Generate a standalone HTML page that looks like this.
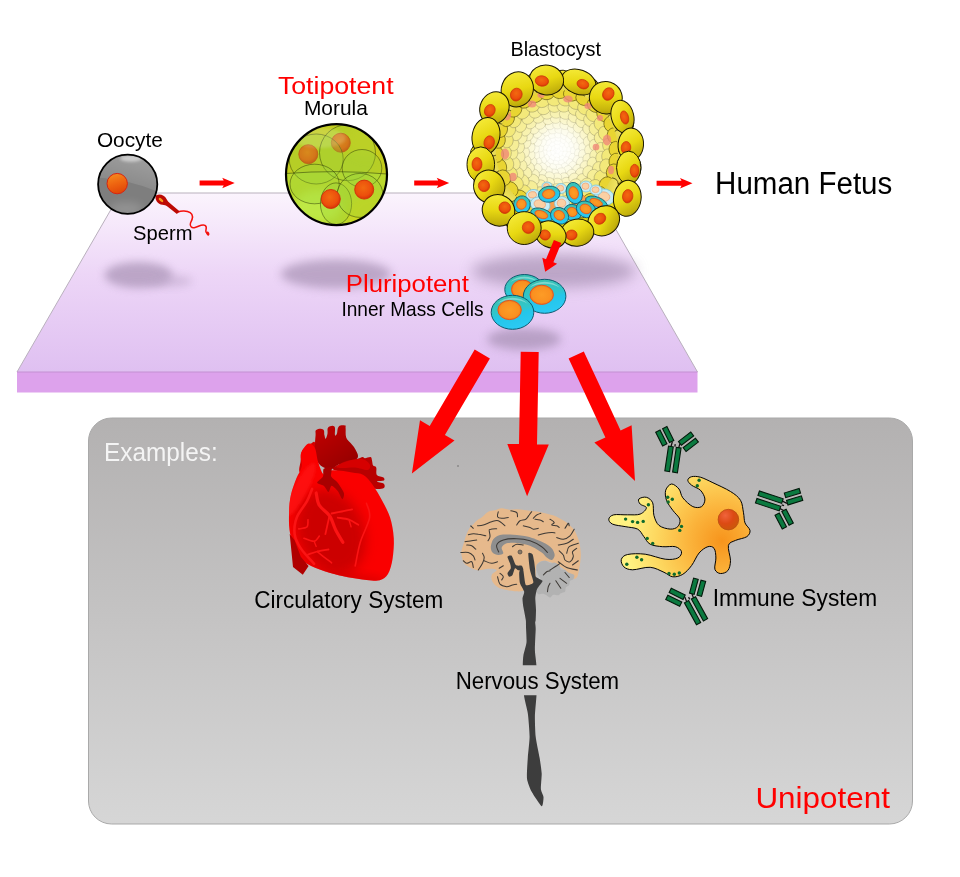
<!DOCTYPE html>
<html lang="en"><head><meta charset="utf-8"><title>Stem cell potency</title>
<style>html,body{margin:0;padding:0;background:#fff}svg{display:block}</style>
</head><body>
<svg width="960" height="877" viewBox="0 0 960 877">
<rect width="960" height="877" fill="#ffffff"/>

<defs>
<linearGradient id="gPlat" x1="0" y1="0" x2="0" y2="1">
 <stop offset="0" stop-color="#fbf4fd"/><stop offset="0.45" stop-color="#edd6f7"/><stop offset="1" stop-color="#dfc0f1"/>
</linearGradient>
<linearGradient id="gPanel" x1="0" y1="0" x2="0" y2="1">
 <stop offset="0" stop-color="#b3b1b1"/><stop offset="1" stop-color="#d6d6d6"/>
</linearGradient>
<filter id="blur4" x="-30%" y="-60%" width="160%" height="220%"><feGaussianBlur stdDeviation="4"/></filter>
<filter id="blur5" x="-30%" y="-80%" width="160%" height="260%"><feGaussianBlur stdDeviation="5"/></filter>
<filter id="blur7" x="-30%" y="-100%" width="160%" height="300%"><feGaussianBlur stdDeviation="7"/></filter>
<filter id="blur6" x="-30%" y="-60%" width="160%" height="220%"><feGaussianBlur stdDeviation="6"/></filter>
<radialGradient id="gNuc" cx="0.45" cy="0.4" r="0.6">
 <stop offset="0" stop-color="#f26a10"/><stop offset="0.7" stop-color="#ec4f0c"/><stop offset="1" stop-color="#d83208"/>
</radialGradient>
<linearGradient id="gOo" x1="0.2" y1="0" x2="0.6" y2="1">
 <stop offset="0" stop-color="#7d7d7d"/><stop offset="0.5" stop-color="#858585"/><stop offset="1" stop-color="#9a9a9a"/>
</linearGradient>
<linearGradient id="gOoHi" gradientUnits="userSpaceOnUse" x1="135" y1="154" x2="125" y2="190">
 <stop offset="0" stop-color="#ffffff" stop-opacity="0.26"/><stop offset="1" stop-color="#ffffff" stop-opacity="0.07"/>
</linearGradient>
<filter id="blur2" x="-30%" y="-60%" width="160%" height="220%"><feGaussianBlur stdDeviation="1.6"/></filter>
<linearGradient id="gNucO" x1="0.3" y1="0" x2="0.6" y2="1">
 <stop offset="0" stop-color="#f68a1e"/><stop offset="0.5" stop-color="#ee6410"/><stop offset="1" stop-color="#df4408"/>
</linearGradient>
<radialGradient id="gMor" cx="0.4" cy="0.75" r="0.8">
 <stop offset="0" stop-color="#b4e03c"/><stop offset="0.6" stop-color="#b6d42a"/><stop offset="1" stop-color="#c4cc1c"/>
</radialGradient>
<linearGradient id="gYCell" x1="0.2" y1="0" x2="0.8" y2="1">
 <stop offset="0" stop-color="#f6ec3c"/><stop offset="0.5" stop-color="#e8d812"/><stop offset="0.85" stop-color="#c4b20c"/><stop offset="1" stop-color="#9e8e08"/>
</linearGradient>
<linearGradient id="gYCell2" x1="0.2" y1="0" x2="0.8" y2="1">
 <stop offset="0" stop-color="#f5ea6a"/><stop offset="1" stop-color="#d8c838"/>
</linearGradient>
<radialGradient id="gCav" cx="0.5" cy="0.5" r="0.5">
 <stop offset="0" stop-color="#ffffff"/><stop offset="0.35" stop-color="#fffef0"/><stop offset="0.75" stop-color="#fbf3a8"/><stop offset="1" stop-color="#f0e060"/>
</radialGradient>
<radialGradient id="gCavFade" cx="0.5" cy="0.5" r="0.5">
 <stop offset="0" stop-color="#ffffff" stop-opacity="1"/><stop offset="0.3" stop-color="#ffffff" stop-opacity="0.85"/><stop offset="0.8" stop-color="#ffffff" stop-opacity="0.15"/><stop offset="1" stop-color="#ffffff" stop-opacity="0"/>
</radialGradient>
<linearGradient id="gCy" x1="0.3" y1="0" x2="0.6" y2="1">
 <stop offset="0" stop-color="#3cc0ac"/><stop offset="0.45" stop-color="#30c6cc"/><stop offset="0.6" stop-color="#24c6ea"/><stop offset="1" stop-color="#2ccaf4"/>
</linearGradient>
<radialGradient id="gOr" cx="0.5" cy="0.5" r="0.5">
 <stop offset="0" stop-color="#fd9c26"/><stop offset="0.8" stop-color="#fa9020"/><stop offset="1" stop-color="#f47c18"/>
</radialGradient>
<radialGradient id="gImm" gradientUnits="userSpaceOnUse" cx="722" cy="541" r="95">
 <stop offset="0" stop-color="#f7941c"/><stop offset="0.35" stop-color="#fbb43c"/><stop offset="0.7" stop-color="#fdd860"/><stop offset="1" stop-color="#fff282"/>
</radialGradient>
<radialGradient id="gImmNuc" cx="0.35" cy="0.3" r="0.8">
 <stop offset="0" stop-color="#f0643c"/><stop offset="0.5" stop-color="#dc4a14"/><stop offset="1" stop-color="#c85a08"/>
</radialGradient>
<linearGradient id="gHeart" gradientUnits="userSpaceOnUse" x1="290" y1="500" x2="395" y2="560">
 <stop offset="0" stop-color="#e00000"/><stop offset="0.5" stop-color="#f40000"/><stop offset="1" stop-color="#ff0808"/>
</linearGradient>
<linearGradient id="gHeartV" gradientUnits="userSpaceOnUse" x1="315" y1="430" x2="350" y2="480">
 <stop offset="0" stop-color="#c00000"/><stop offset="1" stop-color="#8c0000"/>
</linearGradient>
</defs>

<polygon points="120.5,193 595,193 697.5,372 17,372" fill="url(#gPlat)"/>
<polyline points="17,372 120.5,193 595,193 697.5,372" fill="none" stroke="#b9b0bd" stroke-width="1"/>
<rect x="17" y="372" width="680.5" height="20.5" fill="#dda2ec"/>
<line x1="17" y1="372" x2="697.5" y2="372" stroke="#c490d2" stroke-width="1"/>
<g fill="#9e88aa" opacity="0.62">
<ellipse cx="138.500" cy="275" rx="34" ry="13" filter="url(#blur4)"/>
<ellipse cx="170" cy="281" rx="22" ry="5.500" filter="url(#blur4)" opacity="0.55"/>
<ellipse cx="336" cy="274" rx="55" ry="14.500" filter="url(#blur5)"/>
<ellipse cx="554" cy="271" rx="82" ry="17" filter="url(#blur7)"/>
<ellipse cx="524" cy="339" rx="37" ry="11" filter="url(#blur5)"/>
</g>
<rect x="88.5" y="418" width="824" height="406" rx="23" ry="23" fill="url(#gPanel)" stroke="#a9a9a9" stroke-width="1"/>
<polygon points="199.6,180.5 223.7,180.5 222.2,177.75 234.7,183 222.2,188.25 223.7,185.5 199.6,185.5" fill="#ff0000"/>
<polygon points="414.2,180.5 438.2,180.5 436.7,177.75 449.2,183 436.7,188.25 438.2,185.5 414.2,185.5" fill="#ff0000"/>
<polygon points="656.6,180.7 681.5,180.7 680.0,177.95 692.5,183.2 680.0,188.45 681.5,185.7 656.6,185.7" fill="#ff0000"/>
<g>
<path d="M178,212 C181,210.500 187,210.500 190.2,212.7 C193.500,215 192.500,219.500 190.5,223 C189.500,226 191.500,228.500 195,227.500 C199,226.300 202,223.800 205,225.300 C208,227 205,230 206,232 L207.500,233.500" fill="none" stroke="#f4100c" stroke-width="1.5" stroke-linecap="round"/>
<ellipse cx="207.800" cy="233.600" rx="1.500" ry="2.100" transform="rotate(-30 207.800 233.600)" fill="#f4100c"/>
<path d="M156,195.500 c3.500,-2 8.500,-0.500 10.500,3.500 c1,2 2,3 3.500,4.200 l9.500,8 l-2.600,2.800 l-9.500,-7.600 c-1.500,-1 -3,-1.400 -5,-1.600 c-4.500,-0.500 -8.200,-5.300 -6.400,-9.300 z" fill="#bd0a04"/>
<ellipse cx="161" cy="200" rx="2.800" ry="1.300" transform="rotate(40 161 200)" fill="#f59a1c"/>
<clipPath id="cpOo"><circle cx="127.7" cy="184.3" r="29.6"/></clipPath>
<circle cx="127.7" cy="184.3" r="29.6" fill="#7e7e7e"/>
<g clip-path="url(#cpOo)">
<path d="M96,177.500 C108,178.500 128,179 160,192.500 L162,150 L96,150 z" fill="url(#gOoHi)"/>
<ellipse cx="126" cy="209" rx="17" ry="7" fill="#ffffff" opacity="0.16" filter="url(#blur4)"/>
<ellipse cx="131" cy="158.500" rx="11" ry="3.200" fill="#ffffff" opacity="0.5" filter="url(#blur2)"/>
</g>
<circle cx="127.7" cy="184.3" r="29.6" fill="none" stroke="#000" stroke-width="1.8"/>
<circle cx="117.2" cy="183.600" r="10.2" fill="url(#gNucO)" stroke="#d82410" stroke-width="1"/>
</g>
<g>
<circle cx="336.5" cy="174.6" r="50.5" fill="#c2cc1e"/>
<clipPath id="cpMor"><circle cx="336.5" cy="174.6" r="50.5"/></clipPath>
<g clip-path="url(#cpMor)">
<path d="M286,173.500 q50,-4 101,0.500 v55 h-101 z" fill="#b4e23a" opacity="0.55"/>
<ellipse cx="372" cy="214" rx="26" ry="22" fill="#d6d418" opacity="0.55" filter="url(#blur4)"/>
<ellipse cx="318" cy="206" rx="24" ry="16" fill="#c2f456" opacity="0.6" filter="url(#blur4)"/>
<ellipse cx="368" cy="140" rx="22" ry="18" fill="#d2d01a" opacity="0.5" filter="url(#blur4)"/>
<circle cx="308.3" cy="154.2" r="9.500" fill="url(#gNuc)" stroke="#c83808" stroke-width="0.9"/>
<circle cx="340.8" cy="142.7" r="9.500" fill="url(#gNuc)" stroke="#c83808" stroke-width="0.9"/>
<ellipse cx="316.2" cy="159" rx="27" ry="25" fill="#9cd43c" fill-opacity="0.30" stroke="#2c3a08" stroke-opacity="0.55" stroke-width="0.9"/>
<ellipse cx="347.5" cy="152.7" rx="28" ry="28" fill="#9cd43c" fill-opacity="0.30" stroke="#2c3a08" stroke-opacity="0.55" stroke-width="0.9"/>
<ellipse cx="362" cy="168.3" rx="19.8" ry="18.8" fill="#9cd43c" fill-opacity="0.30" stroke="#2c3a08" stroke-opacity="0.55" stroke-width="0.9"/>
<ellipse cx="314.6" cy="184" rx="24.6" ry="19.8" fill="#9cd43c" fill-opacity="0.30" stroke="#2c3a08" stroke-opacity="0.55" stroke-width="0.9"/>
<ellipse cx="336" cy="203.7" rx="15.6" ry="20.8" fill="#9cd43c" fill-opacity="0.30" stroke="#2c3a08" stroke-opacity="0.55" stroke-width="0.9"/>
<ellipse cx="360" cy="195.4" rx="23" ry="22" fill="#9cd43c" fill-opacity="0.30" stroke="#2c3a08" stroke-opacity="0.55" stroke-width="0.9"/>
<path d="M286,173.500 q50,-4 101,0.500" fill="none" stroke="#2c3a08" stroke-opacity="0.6" stroke-width="0.9"/>
<ellipse cx="320" cy="138" rx="26" ry="10" fill="#ffffff" opacity="0.16" filter="url(#blur2)"/>
</g>
<circle cx="364.2" cy="189.6" r="9.500" fill="url(#gNuc)" stroke="#d02c08" stroke-width="0.9"/>
<circle cx="330.8" cy="199" r="9.500" fill="url(#gNuc)" stroke="#d02c08" stroke-width="0.9"/>
<circle cx="336.5" cy="174.6" r="50.5" fill="none" stroke="#000" stroke-width="2.2"/>
</g>
<g>
<circle cx="556" cy="156" r="80" fill="#d6c51c"/>
<ellipse cx="628.0" cy="168.0" rx="15" ry="13" transform="rotate(99 628.0 168.0)" fill="url(#gYCell)" stroke="#1a1600" stroke-width="0.9"/>
<ellipse cx="620.2" cy="190.7" rx="15" ry="13" transform="rotate(118 620.2 190.7)" fill="url(#gYCell)" stroke="#1a1600" stroke-width="0.9"/>
<ellipse cx="605.4" cy="209.7" rx="15" ry="13" transform="rotate(137 605.4 209.7)" fill="url(#gYCell)" stroke="#1a1600" stroke-width="0.9"/>
<ellipse cx="585.3" cy="222.9" rx="15" ry="13" transform="rotate(156 585.3 222.9)" fill="url(#gYCell)" stroke="#1a1600" stroke-width="0.9"/>
<ellipse cx="562.0" cy="228.8" rx="15" ry="13" transform="rotate(175 562.0 228.8)" fill="url(#gYCell)" stroke="#1a1600" stroke-width="0.9"/>
<ellipse cx="538.1" cy="226.8" rx="15" ry="13" transform="rotate(194 538.1 226.8)" fill="url(#gYCell)" stroke="#1a1600" stroke-width="0.9"/>
<ellipse cx="516.1" cy="217.1" rx="15" ry="13" transform="rotate(213 516.1 217.1)" fill="url(#gYCell)" stroke="#1a1600" stroke-width="0.9"/>
<ellipse cx="498.4" cy="200.8" rx="15" ry="13" transform="rotate(232 498.4 200.8)" fill="url(#gYCell)" stroke="#1a1600" stroke-width="0.9"/>
<ellipse cx="487.0" cy="179.7" rx="15" ry="13" transform="rotate(251 487.0 179.7)" fill="url(#gYCell)" stroke="#1a1600" stroke-width="0.9"/>
<ellipse cx="483.0" cy="156.0" rx="15" ry="13" transform="rotate(270 483.0 156.0)" fill="url(#gYCell)" stroke="#1a1600" stroke-width="0.9"/>
<ellipse cx="487.0" cy="132.3" rx="15" ry="13" transform="rotate(289 487.0 132.3)" fill="url(#gYCell)" stroke="#1a1600" stroke-width="0.9"/>
<ellipse cx="498.4" cy="111.2" rx="15" ry="13" transform="rotate(308 498.4 111.2)" fill="url(#gYCell)" stroke="#1a1600" stroke-width="0.9"/>
<ellipse cx="516.1" cy="94.9" rx="15" ry="13" transform="rotate(327 516.1 94.9)" fill="url(#gYCell)" stroke="#1a1600" stroke-width="0.9"/>
<ellipse cx="538.1" cy="85.2" rx="15" ry="13" transform="rotate(346 538.1 85.2)" fill="url(#gYCell)" stroke="#1a1600" stroke-width="0.9"/>
<ellipse cx="562.0" cy="83.2" rx="15" ry="13" transform="rotate(365 562.0 83.2)" fill="url(#gYCell)" stroke="#1a1600" stroke-width="0.9"/>
<ellipse cx="585.3" cy="89.1" rx="15" ry="13" transform="rotate(384 585.3 89.1)" fill="url(#gYCell)" stroke="#1a1600" stroke-width="0.9"/>
<ellipse cx="605.4" cy="102.3" rx="15" ry="13" transform="rotate(403 605.4 102.3)" fill="url(#gYCell)" stroke="#1a1600" stroke-width="0.9"/>
<ellipse cx="620.2" cy="121.3" rx="15" ry="13" transform="rotate(422 620.2 121.3)" fill="url(#gYCell)" stroke="#1a1600" stroke-width="0.9"/>
<ellipse cx="628.0" cy="144.0" rx="15" ry="13" transform="rotate(441 628.0 144.0)" fill="url(#gYCell)" stroke="#1a1600" stroke-width="0.9"/>
<ellipse cx="620.7" cy="157.4" rx="11.500" ry="8" transform="rotate(96 620.7 157.4)" fill="url(#gYCell2)" stroke="#4a4208" stroke-width="0.8"/>
<ellipse cx="616.9" cy="173.7" rx="11.500" ry="8" transform="rotate(111 616.9 173.7)" fill="url(#gYCell2)" stroke="#4a4208" stroke-width="0.8"/>
<ellipse cx="609.0" cy="188.4" rx="11.500" ry="8" transform="rotate(126 609.0 188.4)" fill="url(#gYCell2)" stroke="#4a4208" stroke-width="0.8"/>
<ellipse cx="597.5" cy="200.5" rx="11.500" ry="8" transform="rotate(141 597.5 200.5)" fill="url(#gYCell2)" stroke="#4a4208" stroke-width="0.8"/>
<ellipse cx="583.3" cy="209.3" rx="11.500" ry="8" transform="rotate(156 583.3 209.3)" fill="url(#gYCell2)" stroke="#4a4208" stroke-width="0.8"/>
<ellipse cx="567.3" cy="214.2" rx="11.500" ry="8" transform="rotate(171 567.3 214.2)" fill="url(#gYCell2)" stroke="#4a4208" stroke-width="0.8"/>
<ellipse cx="550.6" cy="214.7" rx="11.500" ry="8" transform="rotate(186 550.6 214.7)" fill="url(#gYCell2)" stroke="#4a4208" stroke-width="0.8"/>
<ellipse cx="534.3" cy="210.9" rx="11.500" ry="8" transform="rotate(201 534.3 210.9)" fill="url(#gYCell2)" stroke="#4a4208" stroke-width="0.8"/>
<ellipse cx="519.6" cy="203.0" rx="11.500" ry="8" transform="rotate(216 519.6 203.0)" fill="url(#gYCell2)" stroke="#4a4208" stroke-width="0.8"/>
<ellipse cx="507.5" cy="191.5" rx="11.500" ry="8" transform="rotate(231 507.5 191.5)" fill="url(#gYCell2)" stroke="#4a4208" stroke-width="0.8"/>
<ellipse cx="498.7" cy="177.3" rx="11.500" ry="8" transform="rotate(246 498.7 177.3)" fill="url(#gYCell2)" stroke="#4a4208" stroke-width="0.8"/>
<ellipse cx="493.8" cy="161.3" rx="11.500" ry="8" transform="rotate(261 493.8 161.3)" fill="url(#gYCell2)" stroke="#4a4208" stroke-width="0.8"/>
<ellipse cx="493.3" cy="144.6" rx="11.500" ry="8" transform="rotate(276 493.3 144.6)" fill="url(#gYCell2)" stroke="#4a4208" stroke-width="0.8"/>
<ellipse cx="497.1" cy="128.3" rx="11.500" ry="8" transform="rotate(291 497.1 128.3)" fill="url(#gYCell2)" stroke="#4a4208" stroke-width="0.8"/>
<ellipse cx="505.0" cy="113.6" rx="11.500" ry="8" transform="rotate(306 505.0 113.6)" fill="url(#gYCell2)" stroke="#4a4208" stroke-width="0.8"/>
<ellipse cx="516.5" cy="101.5" rx="11.500" ry="8" transform="rotate(321 516.5 101.5)" fill="url(#gYCell2)" stroke="#4a4208" stroke-width="0.8"/>
<ellipse cx="530.7" cy="92.7" rx="11.500" ry="8" transform="rotate(336 530.7 92.7)" fill="url(#gYCell2)" stroke="#4a4208" stroke-width="0.8"/>
<ellipse cx="546.7" cy="87.8" rx="11.500" ry="8" transform="rotate(351 546.7 87.8)" fill="url(#gYCell2)" stroke="#4a4208" stroke-width="0.8"/>
<ellipse cx="563.4" cy="87.3" rx="11.500" ry="8" transform="rotate(366 563.4 87.3)" fill="url(#gYCell2)" stroke="#4a4208" stroke-width="0.8"/>
<ellipse cx="579.7" cy="91.1" rx="11.500" ry="8" transform="rotate(381 579.7 91.1)" fill="url(#gYCell2)" stroke="#4a4208" stroke-width="0.8"/>
<ellipse cx="594.4" cy="99.0" rx="11.500" ry="8" transform="rotate(396 594.4 99.0)" fill="url(#gYCell2)" stroke="#4a4208" stroke-width="0.8"/>
<ellipse cx="606.5" cy="110.5" rx="11.500" ry="8" transform="rotate(411 606.5 110.5)" fill="url(#gYCell2)" stroke="#4a4208" stroke-width="0.8"/>
<ellipse cx="615.3" cy="124.7" rx="11.500" ry="8" transform="rotate(426 615.3 124.7)" fill="url(#gYCell2)" stroke="#4a4208" stroke-width="0.8"/>
<ellipse cx="620.2" cy="140.7" rx="11.500" ry="8" transform="rotate(441 620.2 140.7)" fill="url(#gYCell2)" stroke="#4a4208" stroke-width="0.8"/>
<clipPath id="cpCav"><circle cx="557.0" cy="151.0" r="61"/></clipPath>
<circle cx="557.0" cy="151.0" r="61" fill="#ecd84a"/>
<g clip-path="url(#cpCav)">
<ellipse cx="556.1" cy="152.9" rx="3.0" ry="2.5" transform="rotate(206 556.1 152.9)" fill="#fffff9" stroke="#7c7858" stroke-opacity="0.13" stroke-width="0.6"/>
<ellipse cx="555.2" cy="150.1" rx="3.0" ry="2.5" transform="rotate(296 555.2 150.1)" fill="#fffff9" stroke="#7c7858" stroke-opacity="0.13" stroke-width="0.6"/>
<ellipse cx="557.8" cy="149.5" rx="3.0" ry="2.5" transform="rotate(386 557.8 149.5)" fill="#fffff9" stroke="#7c7858" stroke-opacity="0.13" stroke-width="0.6"/>
<ellipse cx="558.5" cy="151.8" rx="3.0" ry="2.5" transform="rotate(477 558.5 151.8)" fill="#fffff9" stroke="#7c7858" stroke-opacity="0.13" stroke-width="0.6"/>
<ellipse cx="552.4" cy="153.1" rx="3.2" ry="2.7" transform="rotate(245 552.4 153.1)" fill="#fffff7" stroke="#7c7858" stroke-opacity="0.15" stroke-width="0.6"/>
<ellipse cx="552.5" cy="147.7" rx="3.2" ry="2.7" transform="rotate(306 552.5 147.7)" fill="#fffff7" stroke="#7c7858" stroke-opacity="0.15" stroke-width="0.6"/>
<ellipse cx="557.5" cy="145.9" rx="3.2" ry="2.7" transform="rotate(365 557.5 145.9)" fill="#fffff7" stroke="#7c7858" stroke-opacity="0.15" stroke-width="0.6"/>
<ellipse cx="562.2" cy="148.7" rx="3.2" ry="2.7" transform="rotate(426 562.2 148.7)" fill="#fffff7" stroke="#7c7858" stroke-opacity="0.15" stroke-width="0.6"/>
<ellipse cx="561.3" cy="154.1" rx="3.2" ry="2.7" transform="rotate(486 561.3 154.1)" fill="#fffff7" stroke="#7c7858" stroke-opacity="0.15" stroke-width="0.6"/>
<ellipse cx="556.4" cy="156.0" rx="3.2" ry="2.7" transform="rotate(547 556.4 156.0)" fill="#fffff7" stroke="#7c7858" stroke-opacity="0.15" stroke-width="0.6"/>
<ellipse cx="562.4" cy="144.2" rx="3.4" ry="2.9" transform="rotate(398 562.4 144.2)" fill="#fefef4" stroke="#7c7858" stroke-opacity="0.18" stroke-width="0.6"/>
<ellipse cx="565.4" cy="148.6" rx="3.4" ry="2.9" transform="rotate(434 565.4 148.6)" fill="#fefef4" stroke="#7c7858" stroke-opacity="0.18" stroke-width="0.6"/>
<ellipse cx="565.1" cy="154.2" rx="3.4" ry="2.9" transform="rotate(472 565.1 154.2)" fill="#fefef4" stroke="#7c7858" stroke-opacity="0.18" stroke-width="0.6"/>
<ellipse cx="561.9" cy="158.6" rx="3.4" ry="2.9" transform="rotate(507 561.9 158.6)" fill="#fefef4" stroke="#7c7858" stroke-opacity="0.18" stroke-width="0.6"/>
<ellipse cx="556.6" cy="159.9" rx="3.4" ry="2.9" transform="rotate(543 556.6 159.9)" fill="#fefef4" stroke="#7c7858" stroke-opacity="0.18" stroke-width="0.6"/>
<ellipse cx="551.7" cy="157.8" rx="3.4" ry="2.9" transform="rotate(578 551.7 157.8)" fill="#fefef4" stroke="#7c7858" stroke-opacity="0.18" stroke-width="0.6"/>
<ellipse cx="548.3" cy="153.5" rx="3.4" ry="2.9" transform="rotate(614 548.3 153.5)" fill="#fefef4" stroke="#7c7858" stroke-opacity="0.18" stroke-width="0.6"/>
<ellipse cx="548.8" cy="147.9" rx="3.4" ry="2.9" transform="rotate(651 548.8 147.9)" fill="#fefef4" stroke="#7c7858" stroke-opacity="0.18" stroke-width="0.6"/>
<ellipse cx="552.2" cy="143.5" rx="3.4" ry="2.9" transform="rotate(687 552.2 143.5)" fill="#fefef4" stroke="#7c7858" stroke-opacity="0.18" stroke-width="0.6"/>
<ellipse cx="557.4" cy="141.9" rx="3.4" ry="2.9" transform="rotate(722 557.4 141.9)" fill="#fefef4" stroke="#7c7858" stroke-opacity="0.18" stroke-width="0.6"/>
<ellipse cx="552.8" cy="138.9" rx="3.7" ry="3.2" transform="rotate(341 552.8 138.9)" fill="#fefdee" stroke="#7c7858" stroke-opacity="0.21" stroke-width="0.6"/>
<ellipse cx="558.7" cy="138.0" rx="3.7" ry="3.2" transform="rotate(367 558.7 138.0)" fill="#fefdee" stroke="#7c7858" stroke-opacity="0.21" stroke-width="0.6"/>
<ellipse cx="563.9" cy="140.5" rx="3.7" ry="3.2" transform="rotate(393 563.9 140.5)" fill="#fefdee" stroke="#7c7858" stroke-opacity="0.21" stroke-width="0.6"/>
<ellipse cx="567.7" cy="144.7" rx="3.7" ry="3.2" transform="rotate(420 567.7 144.7)" fill="#fefdee" stroke="#7c7858" stroke-opacity="0.21" stroke-width="0.6"/>
<ellipse cx="569.9" cy="149.7" rx="3.7" ry="3.2" transform="rotate(444 569.9 149.7)" fill="#fefdee" stroke="#7c7858" stroke-opacity="0.21" stroke-width="0.6"/>
<ellipse cx="569.0" cy="155.2" rx="3.7" ry="3.2" transform="rotate(469 569.0 155.2)" fill="#fefdee" stroke="#7c7858" stroke-opacity="0.21" stroke-width="0.6"/>
<ellipse cx="566.2" cy="160.1" rx="3.7" ry="3.2" transform="rotate(495 566.2 160.1)" fill="#fefdee" stroke="#7c7858" stroke-opacity="0.21" stroke-width="0.6"/>
<ellipse cx="560.9" cy="163.2" rx="3.7" ry="3.2" transform="rotate(522 560.9 163.2)" fill="#fefdee" stroke="#7c7858" stroke-opacity="0.21" stroke-width="0.6"/>
<ellipse cx="555.2" cy="163.5" rx="3.7" ry="3.2" transform="rotate(548 555.2 163.5)" fill="#fefdee" stroke="#7c7858" stroke-opacity="0.21" stroke-width="0.6"/>
<ellipse cx="549.9" cy="161.7" rx="3.7" ry="3.2" transform="rotate(573 549.9 161.7)" fill="#fefdee" stroke="#7c7858" stroke-opacity="0.21" stroke-width="0.6"/>
<ellipse cx="546.1" cy="157.6" rx="3.7" ry="3.2" transform="rotate(599 546.1 157.6)" fill="#fefdee" stroke="#7c7858" stroke-opacity="0.21" stroke-width="0.6"/>
<ellipse cx="543.9" cy="152.1" rx="3.7" ry="3.2" transform="rotate(625 543.9 152.1)" fill="#fefdee" stroke="#7c7858" stroke-opacity="0.21" stroke-width="0.6"/>
<ellipse cx="544.9" cy="146.6" rx="3.7" ry="3.2" transform="rotate(650 544.9 146.6)" fill="#fefdee" stroke="#7c7858" stroke-opacity="0.21" stroke-width="0.6"/>
<ellipse cx="547.8" cy="141.9" rx="3.7" ry="3.2" transform="rotate(675 547.8 141.9)" fill="#fefdee" stroke="#7c7858" stroke-opacity="0.21" stroke-width="0.6"/>
<ellipse cx="546.9" cy="137.1" rx="4.0" ry="3.4" transform="rotate(324 546.9 137.1)" fill="#fdfce7" stroke="#7c7858" stroke-opacity="0.25" stroke-width="0.6"/>
<ellipse cx="552.2" cy="134.9" rx="4.0" ry="3.4" transform="rotate(344 552.2 134.9)" fill="#fdfce7" stroke="#7c7858" stroke-opacity="0.25" stroke-width="0.6"/>
<ellipse cx="558.6" cy="134.6" rx="4.0" ry="3.4" transform="rotate(366 558.6 134.6)" fill="#fdfce7" stroke="#7c7858" stroke-opacity="0.25" stroke-width="0.6"/>
<ellipse cx="564.3" cy="136.1" rx="4.0" ry="3.4" transform="rotate(386 564.3 136.1)" fill="#fdfce7" stroke="#7c7858" stroke-opacity="0.25" stroke-width="0.6"/>
<ellipse cx="569.0" cy="139.7" rx="4.0" ry="3.4" transform="rotate(407 569.0 139.7)" fill="#fdfce7" stroke="#7c7858" stroke-opacity="0.25" stroke-width="0.6"/>
<ellipse cx="572.5" cy="145.2" rx="4.0" ry="3.4" transform="rotate(429 572.5 145.2)" fill="#fdfce7" stroke="#7c7858" stroke-opacity="0.25" stroke-width="0.6"/>
<ellipse cx="573.8" cy="150.8" rx="4.0" ry="3.4" transform="rotate(449 573.8 150.8)" fill="#fdfce7" stroke="#7c7858" stroke-opacity="0.25" stroke-width="0.6"/>
<ellipse cx="572.3" cy="157.2" rx="4.0" ry="3.4" transform="rotate(472 572.3 157.2)" fill="#fdfce7" stroke="#7c7858" stroke-opacity="0.25" stroke-width="0.6"/>
<ellipse cx="569.6" cy="162.4" rx="4.0" ry="3.4" transform="rotate(492 569.6 162.4)" fill="#fdfce7" stroke="#7c7858" stroke-opacity="0.25" stroke-width="0.6"/>
<ellipse cx="564.4" cy="166.5" rx="4.0" ry="3.4" transform="rotate(514 564.4 166.5)" fill="#fdfce7" stroke="#7c7858" stroke-opacity="0.25" stroke-width="0.6"/>
<ellipse cx="558.3" cy="167.6" rx="4.0" ry="3.4" transform="rotate(535 558.3 167.6)" fill="#fdfce7" stroke="#7c7858" stroke-opacity="0.25" stroke-width="0.6"/>
<ellipse cx="552.5" cy="167.1" rx="4.0" ry="3.4" transform="rotate(556 552.5 167.1)" fill="#fdfce7" stroke="#7c7858" stroke-opacity="0.25" stroke-width="0.6"/>
<ellipse cx="546.4" cy="164.7" rx="4.0" ry="3.4" transform="rotate(578 546.4 164.7)" fill="#fdfce7" stroke="#7c7858" stroke-opacity="0.25" stroke-width="0.6"/>
<ellipse cx="543.0" cy="160.0" rx="4.0" ry="3.4" transform="rotate(597 543.0 160.0)" fill="#fdfce7" stroke="#7c7858" stroke-opacity="0.25" stroke-width="0.6"/>
<ellipse cx="540.7" cy="154.3" rx="4.0" ry="3.4" transform="rotate(619 540.7 154.3)" fill="#fdfce7" stroke="#7c7858" stroke-opacity="0.25" stroke-width="0.6"/>
<ellipse cx="540.3" cy="147.9" rx="4.0" ry="3.4" transform="rotate(640 540.3 147.9)" fill="#fdfce7" stroke="#7c7858" stroke-opacity="0.25" stroke-width="0.6"/>
<ellipse cx="542.9" cy="142.5" rx="4.0" ry="3.4" transform="rotate(661 542.9 142.5)" fill="#fdfce7" stroke="#7c7858" stroke-opacity="0.25" stroke-width="0.6"/>
<ellipse cx="538.3" cy="161.6" rx="4.4" ry="3.7" transform="rotate(240 538.3 161.6)" fill="#fcfadd" stroke="#7c7858" stroke-opacity="0.29" stroke-width="0.6"/>
<ellipse cx="535.8" cy="154.8" rx="4.4" ry="3.7" transform="rotate(260 535.8 154.8)" fill="#fcfadd" stroke="#7c7858" stroke-opacity="0.29" stroke-width="0.6"/>
<ellipse cx="535.6" cy="148.5" rx="4.4" ry="3.7" transform="rotate(277 535.6 148.5)" fill="#fcfadd" stroke="#7c7858" stroke-opacity="0.29" stroke-width="0.6"/>
<ellipse cx="538.0" cy="142.1" rx="4.4" ry="3.7" transform="rotate(295 538.0 142.1)" fill="#fcfadd" stroke="#7c7858" stroke-opacity="0.29" stroke-width="0.6"/>
<ellipse cx="541.3" cy="136.0" rx="4.4" ry="3.7" transform="rotate(314 541.3 136.0)" fill="#fcfadd" stroke="#7c7858" stroke-opacity="0.29" stroke-width="0.6"/>
<ellipse cx="546.7" cy="131.9" rx="4.4" ry="3.7" transform="rotate(332 546.7 131.9)" fill="#fcfadd" stroke="#7c7858" stroke-opacity="0.29" stroke-width="0.6"/>
<ellipse cx="552.8" cy="130.1" rx="4.4" ry="3.7" transform="rotate(348 552.8 130.1)" fill="#fcfadd" stroke="#7c7858" stroke-opacity="0.29" stroke-width="0.6"/>
<ellipse cx="559.2" cy="129.6" rx="4.4" ry="3.7" transform="rotate(366 559.2 129.6)" fill="#fcfadd" stroke="#7c7858" stroke-opacity="0.29" stroke-width="0.6"/>
<ellipse cx="565.4" cy="131.8" rx="4.4" ry="3.7" transform="rotate(384 565.4 131.8)" fill="#fcfadd" stroke="#7c7858" stroke-opacity="0.29" stroke-width="0.6"/>
<ellipse cx="571.1" cy="135.4" rx="4.4" ry="3.7" transform="rotate(402 571.1 135.4)" fill="#fcfadd" stroke="#7c7858" stroke-opacity="0.29" stroke-width="0.6"/>
<ellipse cx="575.2" cy="140.6" rx="4.4" ry="3.7" transform="rotate(420 575.2 140.6)" fill="#fcfadd" stroke="#7c7858" stroke-opacity="0.29" stroke-width="0.6"/>
<ellipse cx="577.6" cy="146.5" rx="4.4" ry="3.7" transform="rotate(438 577.6 146.5)" fill="#fcfadd" stroke="#7c7858" stroke-opacity="0.29" stroke-width="0.6"/>
<ellipse cx="578.2" cy="153.2" rx="4.4" ry="3.7" transform="rotate(456 578.2 153.2)" fill="#fcfadd" stroke="#7c7858" stroke-opacity="0.29" stroke-width="0.6"/>
<ellipse cx="576.9" cy="159.7" rx="4.4" ry="3.7" transform="rotate(474 576.9 159.7)" fill="#fcfadd" stroke="#7c7858" stroke-opacity="0.29" stroke-width="0.6"/>
<ellipse cx="572.4" cy="165.4" rx="4.4" ry="3.7" transform="rotate(493 572.4 165.4)" fill="#fcfadd" stroke="#7c7858" stroke-opacity="0.29" stroke-width="0.6"/>
<ellipse cx="567.6" cy="169.4" rx="4.4" ry="3.7" transform="rotate(510 567.6 169.4)" fill="#fcfadd" stroke="#7c7858" stroke-opacity="0.29" stroke-width="0.6"/>
<ellipse cx="561.2" cy="171.6" rx="4.4" ry="3.7" transform="rotate(528 561.2 171.6)" fill="#fcfadd" stroke="#7c7858" stroke-opacity="0.29" stroke-width="0.6"/>
<ellipse cx="554.1" cy="172.7" rx="4.4" ry="3.7" transform="rotate(548 554.1 172.7)" fill="#fcfadd" stroke="#7c7858" stroke-opacity="0.29" stroke-width="0.6"/>
<ellipse cx="548.1" cy="170.4" rx="4.4" ry="3.7" transform="rotate(565 548.1 170.4)" fill="#fcfadd" stroke="#7c7858" stroke-opacity="0.29" stroke-width="0.6"/>
<ellipse cx="543.0" cy="166.7" rx="4.4" ry="3.7" transform="rotate(582 543.0 166.7)" fill="#fcfadd" stroke="#7c7858" stroke-opacity="0.29" stroke-width="0.6"/>
<ellipse cx="542.6" cy="173.4" rx="4.8" ry="4.1" transform="rotate(213 542.6 173.4)" fill="#fbf8d1" stroke="#7c7858" stroke-opacity="0.34" stroke-width="0.6"/>
<ellipse cx="537.6" cy="168.0" rx="4.8" ry="4.1" transform="rotate(229 537.6 168.0)" fill="#fbf8d1" stroke="#7c7858" stroke-opacity="0.34" stroke-width="0.6"/>
<ellipse cx="532.7" cy="161.3" rx="4.8" ry="4.1" transform="rotate(247 532.7 161.3)" fill="#fbf8d1" stroke="#7c7858" stroke-opacity="0.34" stroke-width="0.6"/>
<ellipse cx="530.9" cy="154.9" rx="4.8" ry="4.1" transform="rotate(262 530.9 154.9)" fill="#fbf8d1" stroke="#7c7858" stroke-opacity="0.34" stroke-width="0.6"/>
<ellipse cx="530.9" cy="147.5" rx="4.8" ry="4.1" transform="rotate(278 530.9 147.5)" fill="#fbf8d1" stroke="#7c7858" stroke-opacity="0.34" stroke-width="0.6"/>
<ellipse cx="533.0" cy="139.2" rx="4.8" ry="4.1" transform="rotate(296 533.0 139.2)" fill="#fbf8d1" stroke="#7c7858" stroke-opacity="0.34" stroke-width="0.6"/>
<ellipse cx="537.6" cy="133.6" rx="4.8" ry="4.1" transform="rotate(312 537.6 133.6)" fill="#fbf8d1" stroke="#7c7858" stroke-opacity="0.34" stroke-width="0.6"/>
<ellipse cx="543.1" cy="129.1" rx="4.8" ry="4.1" transform="rotate(328 543.1 129.1)" fill="#fbf8d1" stroke="#7c7858" stroke-opacity="0.34" stroke-width="0.6"/>
<ellipse cx="550.1" cy="125.6" rx="4.8" ry="4.1" transform="rotate(345 550.1 125.6)" fill="#fbf8d1" stroke="#7c7858" stroke-opacity="0.34" stroke-width="0.6"/>
<ellipse cx="557.5" cy="124.9" rx="4.8" ry="4.1" transform="rotate(361 557.5 124.9)" fill="#fbf8d1" stroke="#7c7858" stroke-opacity="0.34" stroke-width="0.6"/>
<ellipse cx="564.5" cy="125.4" rx="4.8" ry="4.1" transform="rotate(376 564.5 125.4)" fill="#fbf8d1" stroke="#7c7858" stroke-opacity="0.34" stroke-width="0.6"/>
<ellipse cx="572.1" cy="129.0" rx="4.8" ry="4.1" transform="rotate(394 572.1 129.0)" fill="#fbf8d1" stroke="#7c7858" stroke-opacity="0.34" stroke-width="0.6"/>
<ellipse cx="577.5" cy="134.0" rx="4.8" ry="4.1" transform="rotate(410 577.5 134.0)" fill="#fbf8d1" stroke="#7c7858" stroke-opacity="0.34" stroke-width="0.6"/>
<ellipse cx="580.9" cy="140.6" rx="4.8" ry="4.1" transform="rotate(427 580.9 140.6)" fill="#fbf8d1" stroke="#7c7858" stroke-opacity="0.34" stroke-width="0.6"/>
<ellipse cx="582.9" cy="147.5" rx="4.8" ry="4.1" transform="rotate(442 582.9 147.5)" fill="#fbf8d1" stroke="#7c7858" stroke-opacity="0.34" stroke-width="0.6"/>
<ellipse cx="582.6" cy="154.4" rx="4.8" ry="4.1" transform="rotate(458 582.6 154.4)" fill="#fbf8d1" stroke="#7c7858" stroke-opacity="0.34" stroke-width="0.6"/>
<ellipse cx="580.7" cy="161.8" rx="4.8" ry="4.1" transform="rotate(475 580.7 161.8)" fill="#fbf8d1" stroke="#7c7858" stroke-opacity="0.34" stroke-width="0.6"/>
<ellipse cx="577.0" cy="168.9" rx="4.8" ry="4.1" transform="rotate(492 577.0 168.9)" fill="#fbf8d1" stroke="#7c7858" stroke-opacity="0.34" stroke-width="0.6"/>
<ellipse cx="571.3" cy="173.6" rx="4.8" ry="4.1" transform="rotate(508 571.3 173.6)" fill="#fbf8d1" stroke="#7c7858" stroke-opacity="0.34" stroke-width="0.6"/>
<ellipse cx="563.8" cy="176.9" rx="4.8" ry="4.1" transform="rotate(525 563.8 176.9)" fill="#fbf8d1" stroke="#7c7858" stroke-opacity="0.34" stroke-width="0.6"/>
<ellipse cx="556.9" cy="177.0" rx="4.8" ry="4.1" transform="rotate(540 556.9 177.0)" fill="#fbf8d1" stroke="#7c7858" stroke-opacity="0.34" stroke-width="0.6"/>
<ellipse cx="549.7" cy="175.9" rx="4.8" ry="4.1" transform="rotate(556 549.7 175.9)" fill="#fbf8d1" stroke="#7c7858" stroke-opacity="0.34" stroke-width="0.6"/>
<ellipse cx="566.0" cy="181.9" rx="5.3" ry="4.5" transform="rotate(164 566.0 181.9)" fill="#faf5c2" stroke="#7c7858" stroke-opacity="0.40" stroke-width="0.6"/>
<ellipse cx="557.4" cy="182.7" rx="5.3" ry="4.5" transform="rotate(179 557.4 182.7)" fill="#faf5c2" stroke="#7c7858" stroke-opacity="0.40" stroke-width="0.6"/>
<ellipse cx="549.3" cy="182.1" rx="5.3" ry="4.5" transform="rotate(194 549.3 182.1)" fill="#faf5c2" stroke="#7c7858" stroke-opacity="0.40" stroke-width="0.6"/>
<ellipse cx="542.2" cy="179.3" rx="5.3" ry="4.5" transform="rotate(208 542.2 179.3)" fill="#faf5c2" stroke="#7c7858" stroke-opacity="0.40" stroke-width="0.6"/>
<ellipse cx="534.6" cy="173.9" rx="5.3" ry="4.5" transform="rotate(224 534.6 173.9)" fill="#faf5c2" stroke="#7c7858" stroke-opacity="0.40" stroke-width="0.6"/>
<ellipse cx="529.8" cy="167.3" rx="5.3" ry="4.5" transform="rotate(239 529.8 167.3)" fill="#faf5c2" stroke="#7c7858" stroke-opacity="0.40" stroke-width="0.6"/>
<ellipse cx="526.4" cy="160.5" rx="5.3" ry="4.5" transform="rotate(253 526.4 160.5)" fill="#faf5c2" stroke="#7c7858" stroke-opacity="0.40" stroke-width="0.6"/>
<ellipse cx="525.0" cy="152.0" rx="5.3" ry="4.5" transform="rotate(268 525.0 152.0)" fill="#faf5c2" stroke="#7c7858" stroke-opacity="0.40" stroke-width="0.6"/>
<ellipse cx="526.4" cy="143.0" rx="5.3" ry="4.5" transform="rotate(285 526.4 143.0)" fill="#faf5c2" stroke="#7c7858" stroke-opacity="0.40" stroke-width="0.6"/>
<ellipse cx="528.6" cy="135.7" rx="5.3" ry="4.5" transform="rotate(298 528.6 135.7)" fill="#faf5c2" stroke="#7c7858" stroke-opacity="0.40" stroke-width="0.6"/>
<ellipse cx="534.5" cy="129.2" rx="5.3" ry="4.5" transform="rotate(314 534.5 129.2)" fill="#faf5c2" stroke="#7c7858" stroke-opacity="0.40" stroke-width="0.6"/>
<ellipse cx="540.3" cy="124.6" rx="5.3" ry="4.5" transform="rotate(328 540.3 124.6)" fill="#faf5c2" stroke="#7c7858" stroke-opacity="0.40" stroke-width="0.6"/>
<ellipse cx="548.4" cy="120.1" rx="5.3" ry="4.5" transform="rotate(344 548.4 120.1)" fill="#faf5c2" stroke="#7c7858" stroke-opacity="0.40" stroke-width="0.6"/>
<ellipse cx="555.7" cy="118.9" rx="5.3" ry="4.5" transform="rotate(358 555.7 118.9)" fill="#faf5c2" stroke="#7c7858" stroke-opacity="0.40" stroke-width="0.6"/>
<ellipse cx="565.1" cy="120.1" rx="5.3" ry="4.5" transform="rotate(375 565.1 120.1)" fill="#faf5c2" stroke="#7c7858" stroke-opacity="0.40" stroke-width="0.6"/>
<ellipse cx="572.0" cy="123.0" rx="5.3" ry="4.5" transform="rotate(388 572.0 123.0)" fill="#faf5c2" stroke="#7c7858" stroke-opacity="0.40" stroke-width="0.6"/>
<ellipse cx="578.1" cy="128.1" rx="5.3" ry="4.5" transform="rotate(403 578.1 128.1)" fill="#faf5c2" stroke="#7c7858" stroke-opacity="0.40" stroke-width="0.6"/>
<ellipse cx="584.5" cy="134.9" rx="5.3" ry="4.5" transform="rotate(420 584.5 134.9)" fill="#faf5c2" stroke="#7c7858" stroke-opacity="0.40" stroke-width="0.6"/>
<ellipse cx="587.9" cy="141.9" rx="5.3" ry="4.5" transform="rotate(434 587.9 141.9)" fill="#faf5c2" stroke="#7c7858" stroke-opacity="0.40" stroke-width="0.6"/>
<ellipse cx="589.1" cy="150.1" rx="5.3" ry="4.5" transform="rotate(448 589.1 150.1)" fill="#faf5c2" stroke="#7c7858" stroke-opacity="0.40" stroke-width="0.6"/>
<ellipse cx="587.4" cy="158.7" rx="5.3" ry="4.5" transform="rotate(464 587.4 158.7)" fill="#faf5c2" stroke="#7c7858" stroke-opacity="0.40" stroke-width="0.6"/>
<ellipse cx="584.8" cy="165.8" rx="5.3" ry="4.5" transform="rotate(478 584.8 165.8)" fill="#faf5c2" stroke="#7c7858" stroke-opacity="0.40" stroke-width="0.6"/>
<ellipse cx="580.3" cy="172.7" rx="5.3" ry="4.5" transform="rotate(493 580.3 172.7)" fill="#faf5c2" stroke="#7c7858" stroke-opacity="0.40" stroke-width="0.6"/>
<ellipse cx="573.8" cy="177.8" rx="5.3" ry="4.5" transform="rotate(508 573.8 177.8)" fill="#faf5c2" stroke="#7c7858" stroke-opacity="0.40" stroke-width="0.6"/>
<ellipse cx="582.0" cy="178.9" rx="5.9" ry="5.0" transform="rotate(138 582.0 178.9)" fill="#f8f2af" stroke="#7c7858" stroke-opacity="0.46" stroke-width="0.6"/>
<ellipse cx="575.3" cy="184.0" rx="5.9" ry="5.0" transform="rotate(151 575.3 184.0)" fill="#f8f2af" stroke="#7c7858" stroke-opacity="0.46" stroke-width="0.6"/>
<ellipse cx="566.2" cy="187.4" rx="5.9" ry="5.0" transform="rotate(166 566.2 187.4)" fill="#f8f2af" stroke="#7c7858" stroke-opacity="0.46" stroke-width="0.6"/>
<ellipse cx="557.2" cy="188.6" rx="5.9" ry="5.0" transform="rotate(180 557.2 188.6)" fill="#f8f2af" stroke="#7c7858" stroke-opacity="0.46" stroke-width="0.6"/>
<ellipse cx="548.8" cy="187.8" rx="5.9" ry="5.0" transform="rotate(193 548.8 187.8)" fill="#f8f2af" stroke="#7c7858" stroke-opacity="0.46" stroke-width="0.6"/>
<ellipse cx="541.0" cy="185.0" rx="5.9" ry="5.0" transform="rotate(205 541.0 185.0)" fill="#f8f2af" stroke="#7c7858" stroke-opacity="0.46" stroke-width="0.6"/>
<ellipse cx="533.5" cy="179.5" rx="5.9" ry="5.0" transform="rotate(220 533.5 179.5)" fill="#f8f2af" stroke="#7c7858" stroke-opacity="0.46" stroke-width="0.6"/>
<ellipse cx="526.6" cy="172.5" rx="5.9" ry="5.0" transform="rotate(235 526.6 172.5)" fill="#f8f2af" stroke="#7c7858" stroke-opacity="0.46" stroke-width="0.6"/>
<ellipse cx="521.9" cy="165.3" rx="5.9" ry="5.0" transform="rotate(248 521.9 165.3)" fill="#f8f2af" stroke="#7c7858" stroke-opacity="0.46" stroke-width="0.6"/>
<ellipse cx="520.0" cy="156.3" rx="5.9" ry="5.0" transform="rotate(262 520.0 156.3)" fill="#f8f2af" stroke="#7c7858" stroke-opacity="0.46" stroke-width="0.6"/>
<ellipse cx="519.5" cy="147.3" rx="5.9" ry="5.0" transform="rotate(276 519.5 147.3)" fill="#f8f2af" stroke="#7c7858" stroke-opacity="0.46" stroke-width="0.6"/>
<ellipse cx="522.1" cy="138.2" rx="5.9" ry="5.0" transform="rotate(290 522.1 138.2)" fill="#f8f2af" stroke="#7c7858" stroke-opacity="0.46" stroke-width="0.6"/>
<ellipse cx="525.9" cy="130.4" rx="5.9" ry="5.0" transform="rotate(303 525.9 130.4)" fill="#f8f2af" stroke="#7c7858" stroke-opacity="0.46" stroke-width="0.6"/>
<ellipse cx="530.9" cy="123.4" rx="5.9" ry="5.0" transform="rotate(317 530.9 123.4)" fill="#f8f2af" stroke="#7c7858" stroke-opacity="0.46" stroke-width="0.6"/>
<ellipse cx="538.7" cy="118.0" rx="5.9" ry="5.0" transform="rotate(331 538.7 118.0)" fill="#f8f2af" stroke="#7c7858" stroke-opacity="0.46" stroke-width="0.6"/>
<ellipse cx="547.4" cy="114.1" rx="5.9" ry="5.0" transform="rotate(345 547.4 114.1)" fill="#f8f2af" stroke="#7c7858" stroke-opacity="0.46" stroke-width="0.6"/>
<ellipse cx="556.1" cy="113.2" rx="5.9" ry="5.0" transform="rotate(359 556.1 113.2)" fill="#f8f2af" stroke="#7c7858" stroke-opacity="0.46" stroke-width="0.6"/>
<ellipse cx="565.2" cy="114.3" rx="5.9" ry="5.0" transform="rotate(373 565.2 114.3)" fill="#f8f2af" stroke="#7c7858" stroke-opacity="0.46" stroke-width="0.6"/>
<ellipse cx="574.0" cy="117.5" rx="5.9" ry="5.0" transform="rotate(387 574.0 117.5)" fill="#f8f2af" stroke="#7c7858" stroke-opacity="0.46" stroke-width="0.6"/>
<ellipse cx="581.3" cy="122.3" rx="5.9" ry="5.0" transform="rotate(400 581.3 122.3)" fill="#f8f2af" stroke="#7c7858" stroke-opacity="0.46" stroke-width="0.6"/>
<ellipse cx="588.1" cy="129.3" rx="5.9" ry="5.0" transform="rotate(415 588.1 129.3)" fill="#f8f2af" stroke="#7c7858" stroke-opacity="0.46" stroke-width="0.6"/>
<ellipse cx="592.6" cy="137.2" rx="5.9" ry="5.0" transform="rotate(429 592.6 137.2)" fill="#f8f2af" stroke="#7c7858" stroke-opacity="0.46" stroke-width="0.6"/>
<ellipse cx="594.3" cy="145.2" rx="5.9" ry="5.0" transform="rotate(441 594.3 145.2)" fill="#f8f2af" stroke="#7c7858" stroke-opacity="0.46" stroke-width="0.6"/>
<ellipse cx="594.8" cy="155.4" rx="5.9" ry="5.0" transform="rotate(457 594.8 155.4)" fill="#f8f2af" stroke="#7c7858" stroke-opacity="0.46" stroke-width="0.6"/>
<ellipse cx="592.2" cy="162.9" rx="5.9" ry="5.0" transform="rotate(469 592.2 162.9)" fill="#f8f2af" stroke="#7c7858" stroke-opacity="0.46" stroke-width="0.6"/>
<ellipse cx="588.0" cy="171.3" rx="5.9" ry="5.0" transform="rotate(483 588.0 171.3)" fill="#f8f2af" stroke="#7c7858" stroke-opacity="0.46" stroke-width="0.6"/>
<ellipse cx="560.4" cy="195.3" rx="6.5" ry="5.5" transform="rotate(176 560.4 195.3)" fill="#f6ee97" stroke="#7c7858" stroke-opacity="0.54" stroke-width="0.6"/>
<ellipse cx="549.2" cy="195.0" rx="6.5" ry="5.5" transform="rotate(190 549.2 195.0)" fill="#f6ee97" stroke="#7c7858" stroke-opacity="0.54" stroke-width="0.6"/>
<ellipse cx="540.7" cy="192.4" rx="6.5" ry="5.5" transform="rotate(202 540.7 192.4)" fill="#f6ee97" stroke="#7c7858" stroke-opacity="0.54" stroke-width="0.6"/>
<ellipse cx="531.6" cy="186.5" rx="6.5" ry="5.5" transform="rotate(216 531.6 186.5)" fill="#f6ee97" stroke="#7c7858" stroke-opacity="0.54" stroke-width="0.6"/>
<ellipse cx="523.2" cy="180.5" rx="6.5" ry="5.5" transform="rotate(229 523.2 180.5)" fill="#f6ee97" stroke="#7c7858" stroke-opacity="0.54" stroke-width="0.6"/>
<ellipse cx="518.1" cy="173.3" rx="6.5" ry="5.5" transform="rotate(240 518.1 173.3)" fill="#f6ee97" stroke="#7c7858" stroke-opacity="0.54" stroke-width="0.6"/>
<ellipse cx="514.7" cy="163.5" rx="6.5" ry="5.5" transform="rotate(253 514.7 163.5)" fill="#f6ee97" stroke="#7c7858" stroke-opacity="0.54" stroke-width="0.6"/>
<ellipse cx="512.4" cy="152.8" rx="6.5" ry="5.5" transform="rotate(268 512.4 152.8)" fill="#f6ee97" stroke="#7c7858" stroke-opacity="0.54" stroke-width="0.6"/>
<ellipse cx="513.4" cy="144.4" rx="6.5" ry="5.5" transform="rotate(279 513.4 144.4)" fill="#f6ee97" stroke="#7c7858" stroke-opacity="0.54" stroke-width="0.6"/>
<ellipse cx="516.4" cy="134.3" rx="6.5" ry="5.5" transform="rotate(292 516.4 134.3)" fill="#f6ee97" stroke="#7c7858" stroke-opacity="0.54" stroke-width="0.6"/>
<ellipse cx="520.8" cy="126.2" rx="6.5" ry="5.5" transform="rotate(304 520.8 126.2)" fill="#f6ee97" stroke="#7c7858" stroke-opacity="0.54" stroke-width="0.6"/>
<ellipse cx="528.2" cy="118.4" rx="6.5" ry="5.5" transform="rotate(319 528.2 118.4)" fill="#f6ee97" stroke="#7c7858" stroke-opacity="0.54" stroke-width="0.6"/>
<ellipse cx="535.6" cy="112.4" rx="6.5" ry="5.5" transform="rotate(331 535.6 112.4)" fill="#f6ee97" stroke="#7c7858" stroke-opacity="0.54" stroke-width="0.6"/>
<ellipse cx="543.9" cy="109.1" rx="6.5" ry="5.5" transform="rotate(343 543.9 109.1)" fill="#f6ee97" stroke="#7c7858" stroke-opacity="0.54" stroke-width="0.6"/>
<ellipse cx="554.6" cy="106.9" rx="6.5" ry="5.5" transform="rotate(357 554.6 106.9)" fill="#f6ee97" stroke="#7c7858" stroke-opacity="0.54" stroke-width="0.6"/>
<ellipse cx="563.6" cy="106.6" rx="6.5" ry="5.5" transform="rotate(368 563.6 106.6)" fill="#f6ee97" stroke="#7c7858" stroke-opacity="0.54" stroke-width="0.6"/>
<ellipse cx="574.5" cy="109.7" rx="6.5" ry="5.5" transform="rotate(383 574.5 109.7)" fill="#f6ee97" stroke="#7c7858" stroke-opacity="0.54" stroke-width="0.6"/>
<ellipse cx="581.7" cy="114.8" rx="6.5" ry="5.5" transform="rotate(394 581.7 114.8)" fill="#f6ee97" stroke="#7c7858" stroke-opacity="0.54" stroke-width="0.6"/>
<ellipse cx="589.6" cy="120.6" rx="6.5" ry="5.5" transform="rotate(407 589.6 120.6)" fill="#f6ee97" stroke="#7c7858" stroke-opacity="0.54" stroke-width="0.6"/>
<ellipse cx="594.9" cy="129.4" rx="6.5" ry="5.5" transform="rotate(420 594.9 129.4)" fill="#f6ee97" stroke="#7c7858" stroke-opacity="0.54" stroke-width="0.6"/>
<ellipse cx="599.9" cy="138.3" rx="6.5" ry="5.5" transform="rotate(434 599.9 138.3)" fill="#f6ee97" stroke="#7c7858" stroke-opacity="0.54" stroke-width="0.6"/>
<ellipse cx="600.8" cy="148.9" rx="6.5" ry="5.5" transform="rotate(447 600.8 148.9)" fill="#f6ee97" stroke="#7c7858" stroke-opacity="0.54" stroke-width="0.6"/>
<ellipse cx="601.3" cy="157.7" rx="6.5" ry="5.5" transform="rotate(459 601.3 157.7)" fill="#f6ee97" stroke="#7c7858" stroke-opacity="0.54" stroke-width="0.6"/>
<ellipse cx="598.1" cy="168.0" rx="6.5" ry="5.5" transform="rotate(472 598.1 168.0)" fill="#f6ee97" stroke="#7c7858" stroke-opacity="0.54" stroke-width="0.6"/>
<ellipse cx="593.0" cy="175.5" rx="6.5" ry="5.5" transform="rotate(484 593.0 175.5)" fill="#f6ee97" stroke="#7c7858" stroke-opacity="0.54" stroke-width="0.6"/>
<ellipse cx="586.2" cy="184.0" rx="6.5" ry="5.5" transform="rotate(498 586.2 184.0)" fill="#f6ee97" stroke="#7c7858" stroke-opacity="0.54" stroke-width="0.6"/>
<ellipse cx="579.5" cy="189.8" rx="6.5" ry="5.5" transform="rotate(510 579.5 189.8)" fill="#f6ee97" stroke="#7c7858" stroke-opacity="0.54" stroke-width="0.6"/>
<ellipse cx="569.3" cy="193.9" rx="6.5" ry="5.5" transform="rotate(524 569.3 193.9)" fill="#f6ee97" stroke="#7c7858" stroke-opacity="0.54" stroke-width="0.6"/>
<ellipse cx="600.5" cy="177.1" rx="7.2" ry="6.1" transform="rotate(121 600.5 177.1)" fill="#f3e97a" stroke="#7c7858" stroke-opacity="0.62" stroke-width="0.6"/>
<ellipse cx="594.3" cy="186.2" rx="7.2" ry="6.1" transform="rotate(133 594.3 186.2)" fill="#f3e97a" stroke="#7c7858" stroke-opacity="0.62" stroke-width="0.6"/>
<ellipse cx="586.8" cy="193.0" rx="7.2" ry="6.1" transform="rotate(145 586.8 193.0)" fill="#f3e97a" stroke="#7c7858" stroke-opacity="0.62" stroke-width="0.6"/>
<ellipse cx="575.8" cy="198.4" rx="7.2" ry="6.1" transform="rotate(158 575.8 198.4)" fill="#f3e97a" stroke="#7c7858" stroke-opacity="0.62" stroke-width="0.6"/>
<ellipse cx="566.9" cy="201.5" rx="7.2" ry="6.1" transform="rotate(169 566.9 201.5)" fill="#f3e97a" stroke="#7c7858" stroke-opacity="0.62" stroke-width="0.6"/>
<ellipse cx="555.6" cy="201.8" rx="7.2" ry="6.1" transform="rotate(182 555.6 201.8)" fill="#f3e97a" stroke="#7c7858" stroke-opacity="0.62" stroke-width="0.6"/>
<ellipse cx="544.9" cy="200.2" rx="7.2" ry="6.1" transform="rotate(194 544.9 200.2)" fill="#f3e97a" stroke="#7c7858" stroke-opacity="0.62" stroke-width="0.6"/>
<ellipse cx="534.3" cy="196.8" rx="7.2" ry="6.1" transform="rotate(206 534.3 196.8)" fill="#f3e97a" stroke="#7c7858" stroke-opacity="0.62" stroke-width="0.6"/>
<ellipse cx="524.4" cy="191.3" rx="7.2" ry="6.1" transform="rotate(219 524.4 191.3)" fill="#f3e97a" stroke="#7c7858" stroke-opacity="0.62" stroke-width="0.6"/>
<ellipse cx="516.8" cy="183.1" rx="7.2" ry="6.1" transform="rotate(231 516.8 183.1)" fill="#f3e97a" stroke="#7c7858" stroke-opacity="0.62" stroke-width="0.6"/>
<ellipse cx="511.2" cy="173.8" rx="7.2" ry="6.1" transform="rotate(244 511.2 173.8)" fill="#f3e97a" stroke="#7c7858" stroke-opacity="0.62" stroke-width="0.6"/>
<ellipse cx="507.6" cy="163.7" rx="7.2" ry="6.1" transform="rotate(256 507.6 163.7)" fill="#f3e97a" stroke="#7c7858" stroke-opacity="0.62" stroke-width="0.6"/>
<ellipse cx="505.3" cy="152.8" rx="7.2" ry="6.1" transform="rotate(268 505.3 152.8)" fill="#f3e97a" stroke="#7c7858" stroke-opacity="0.62" stroke-width="0.6"/>
<ellipse cx="507.1" cy="140.7" rx="7.2" ry="6.1" transform="rotate(282 507.1 140.7)" fill="#f3e97a" stroke="#7c7858" stroke-opacity="0.62" stroke-width="0.6"/>
<ellipse cx="509.4" cy="129.9" rx="7.2" ry="6.1" transform="rotate(294 509.4 129.9)" fill="#f3e97a" stroke="#7c7858" stroke-opacity="0.62" stroke-width="0.6"/>
<ellipse cx="514.7" cy="120.9" rx="7.2" ry="6.1" transform="rotate(305 514.7 120.9)" fill="#f3e97a" stroke="#7c7858" stroke-opacity="0.62" stroke-width="0.6"/>
<ellipse cx="523.0" cy="112.5" rx="7.2" ry="6.1" transform="rotate(319 523.0 112.5)" fill="#f3e97a" stroke="#7c7858" stroke-opacity="0.62" stroke-width="0.6"/>
<ellipse cx="532.9" cy="105.8" rx="7.2" ry="6.1" transform="rotate(332 532.9 105.8)" fill="#f3e97a" stroke="#7c7858" stroke-opacity="0.62" stroke-width="0.6"/>
<ellipse cx="542.4" cy="101.4" rx="7.2" ry="6.1" transform="rotate(344 542.4 101.4)" fill="#f3e97a" stroke="#7c7858" stroke-opacity="0.62" stroke-width="0.6"/>
<ellipse cx="554.4" cy="99.9" rx="7.2" ry="6.1" transform="rotate(357 554.4 99.9)" fill="#f3e97a" stroke="#7c7858" stroke-opacity="0.62" stroke-width="0.6"/>
<ellipse cx="565.2" cy="99.9" rx="7.2" ry="6.1" transform="rotate(369 565.2 99.9)" fill="#f3e97a" stroke="#7c7858" stroke-opacity="0.62" stroke-width="0.6"/>
<ellipse cx="575.5" cy="103.2" rx="7.2" ry="6.1" transform="rotate(381 575.5 103.2)" fill="#f3e97a" stroke="#7c7858" stroke-opacity="0.62" stroke-width="0.6"/>
<ellipse cx="584.5" cy="108.4" rx="7.2" ry="6.1" transform="rotate(393 584.5 108.4)" fill="#f3e97a" stroke="#7c7858" stroke-opacity="0.62" stroke-width="0.6"/>
<ellipse cx="592.7" cy="115.0" rx="7.2" ry="6.1" transform="rotate(405 592.7 115.0)" fill="#f3e97a" stroke="#7c7858" stroke-opacity="0.62" stroke-width="0.6"/>
<ellipse cx="600.5" cy="124.4" rx="7.2" ry="6.1" transform="rotate(419 600.5 124.4)" fill="#f3e97a" stroke="#7c7858" stroke-opacity="0.62" stroke-width="0.6"/>
<ellipse cx="604.6" cy="133.4" rx="7.2" ry="6.1" transform="rotate(430 604.6 133.4)" fill="#f3e97a" stroke="#7c7858" stroke-opacity="0.62" stroke-width="0.6"/>
<ellipse cx="608.7" cy="145.3" rx="7.2" ry="6.1" transform="rotate(444 608.7 145.3)" fill="#f3e97a" stroke="#7c7858" stroke-opacity="0.62" stroke-width="0.6"/>
<ellipse cx="607.8" cy="156.1" rx="7.2" ry="6.1" transform="rotate(456 607.8 156.1)" fill="#f3e97a" stroke="#7c7858" stroke-opacity="0.62" stroke-width="0.6"/>
<ellipse cx="605.8" cy="166.0" rx="7.2" ry="6.1" transform="rotate(467 605.8 166.0)" fill="#f3e97a" stroke="#7c7858" stroke-opacity="0.62" stroke-width="0.6"/>
<ellipse cx="499.8" cy="166.8" rx="8.0" ry="6.8" transform="rotate(255 499.8 166.8)" fill="#e9d532" stroke="#4a4208" stroke-opacity="0.90" stroke-width="0.6"/>
<ellipse cx="496.8" cy="154.4" rx="8.0" ry="6.8" transform="rotate(267 496.8 154.4)" fill="#e9d532" stroke="#4a4208" stroke-opacity="0.90" stroke-width="0.6"/>
<ellipse cx="498.5" cy="140.3" rx="8.0" ry="6.8" transform="rotate(280 498.5 140.3)" fill="#e9d532" stroke="#4a4208" stroke-opacity="0.90" stroke-width="0.6"/>
<ellipse cx="500.6" cy="129.7" rx="8.0" ry="6.8" transform="rotate(291 500.6 129.7)" fill="#e9d532" stroke="#4a4208" stroke-opacity="0.90" stroke-width="0.6"/>
<ellipse cx="507.3" cy="118.9" rx="8.0" ry="6.8" transform="rotate(303 507.3 118.9)" fill="#e9d532" stroke="#4a4208" stroke-opacity="0.90" stroke-width="0.6"/>
<ellipse cx="514.5" cy="109.7" rx="8.0" ry="6.8" transform="rotate(314 514.5 109.7)" fill="#e9d532" stroke="#4a4208" stroke-opacity="0.90" stroke-width="0.6"/>
<ellipse cx="524.9" cy="101.0" rx="8.0" ry="6.8" transform="rotate(327 524.9 101.0)" fill="#e9d532" stroke="#4a4208" stroke-opacity="0.90" stroke-width="0.6"/>
<ellipse cx="535.3" cy="95.7" rx="8.0" ry="6.8" transform="rotate(339 535.3 95.7)" fill="#e9d532" stroke="#4a4208" stroke-opacity="0.90" stroke-width="0.6"/>
<ellipse cx="546.9" cy="92.9" rx="8.0" ry="6.8" transform="rotate(350 546.9 92.9)" fill="#e9d532" stroke="#4a4208" stroke-opacity="0.90" stroke-width="0.6"/>
<ellipse cx="559.5" cy="91.8" rx="8.0" ry="6.8" transform="rotate(362 559.5 91.8)" fill="#e9d532" stroke="#4a4208" stroke-opacity="0.90" stroke-width="0.6"/>
<ellipse cx="571.4" cy="94.2" rx="8.0" ry="6.8" transform="rotate(374 571.4 94.2)" fill="#e9d532" stroke="#4a4208" stroke-opacity="0.90" stroke-width="0.6"/>
<ellipse cx="583.6" cy="98.4" rx="8.0" ry="6.8" transform="rotate(387 583.6 98.4)" fill="#e9d532" stroke="#4a4208" stroke-opacity="0.90" stroke-width="0.6"/>
<ellipse cx="594.8" cy="105.1" rx="8.0" ry="6.8" transform="rotate(400 594.8 105.1)" fill="#e9d532" stroke="#4a4208" stroke-opacity="0.90" stroke-width="0.6"/>
<ellipse cx="604.0" cy="114.2" rx="8.0" ry="6.8" transform="rotate(412 604.0 114.2)" fill="#e9d532" stroke="#4a4208" stroke-opacity="0.90" stroke-width="0.6"/>
<ellipse cx="610.9" cy="124.5" rx="8.0" ry="6.8" transform="rotate(424 610.9 124.5)" fill="#e9d532" stroke="#4a4208" stroke-opacity="0.90" stroke-width="0.6"/>
<ellipse cx="614.1" cy="135.8" rx="8.0" ry="6.8" transform="rotate(435 614.1 135.8)" fill="#e9d532" stroke="#4a4208" stroke-opacity="0.90" stroke-width="0.6"/>
<ellipse cx="615.8" cy="149.4" rx="8.0" ry="6.8" transform="rotate(448 615.8 149.4)" fill="#e9d532" stroke="#4a4208" stroke-opacity="0.90" stroke-width="0.6"/>
<ellipse cx="615.8" cy="161.2" rx="8.0" ry="6.8" transform="rotate(460 615.8 161.2)" fill="#e9d532" stroke="#4a4208" stroke-opacity="0.90" stroke-width="0.6"/>
<ellipse cx="613.3" cy="171.8" rx="8.0" ry="6.8" transform="rotate(470 613.3 171.8)" fill="#e9d532" stroke="#4a4208" stroke-opacity="0.90" stroke-width="0.6"/>
<ellipse cx="606.3" cy="184.5" rx="8.0" ry="6.8" transform="rotate(484 606.3 184.5)" fill="#e9d532" stroke="#4a4208" stroke-opacity="0.90" stroke-width="0.6"/>
<ellipse cx="598.8" cy="194.0" rx="8.0" ry="6.8" transform="rotate(496 598.8 194.0)" fill="#e9d532" stroke="#4a4208" stroke-opacity="0.90" stroke-width="0.6"/>
<ellipse cx="589.8" cy="200.6" rx="8.0" ry="6.8" transform="rotate(506 589.8 200.6)" fill="#e9d532" stroke="#4a4208" stroke-opacity="0.90" stroke-width="0.6"/>
<ellipse cx="578.2" cy="207.2" rx="8.0" ry="6.8" transform="rotate(519 578.2 207.2)" fill="#e9d532" stroke="#4a4208" stroke-opacity="0.90" stroke-width="0.6"/>
<ellipse cx="565.3" cy="210.4" rx="8.0" ry="6.8" transform="rotate(532 565.3 210.4)" fill="#e9d532" stroke="#4a4208" stroke-opacity="0.90" stroke-width="0.6"/>
<ellipse cx="553.3" cy="211.0" rx="8.0" ry="6.8" transform="rotate(544 553.3 211.0)" fill="#e9d532" stroke="#4a4208" stroke-opacity="0.90" stroke-width="0.6"/>
<ellipse cx="540.8" cy="208.5" rx="8.0" ry="6.8" transform="rotate(556 540.8 208.5)" fill="#e9d532" stroke="#4a4208" stroke-opacity="0.90" stroke-width="0.6"/>
<ellipse cx="530.7" cy="203.3" rx="8.0" ry="6.8" transform="rotate(567 530.7 203.3)" fill="#e9d532" stroke="#4a4208" stroke-opacity="0.90" stroke-width="0.6"/>
<ellipse cx="520.2" cy="197.3" rx="8.0" ry="6.8" transform="rotate(578 520.2 197.3)" fill="#e9d532" stroke="#4a4208" stroke-opacity="0.90" stroke-width="0.6"/>
<ellipse cx="510.7" cy="189.2" rx="8.0" ry="6.8" transform="rotate(590 510.7 189.2)" fill="#e9d532" stroke="#4a4208" stroke-opacity="0.90" stroke-width="0.6"/>
<ellipse cx="503.6" cy="177.7" rx="8.0" ry="6.8" transform="rotate(603 503.6 177.7)" fill="#e9d532" stroke="#4a4208" stroke-opacity="0.90" stroke-width="0.6"/>
<ellipse cx="519" cy="96" rx="4.5" ry="3.5" fill="#f08878" opacity="0.8" transform="translate(519 96) scale(1.2) translate(-519 -96)"/>
<ellipse cx="532" cy="104" rx="3.5" ry="3" fill="#f08878" opacity="0.8" transform="translate(532 104) scale(1.2) translate(-532 -104)"/>
<ellipse cx="568" cy="99" rx="4" ry="3" fill="#f08878" opacity="0.8" transform="translate(568 99) scale(1.2) translate(-568 -99)"/>
<ellipse cx="588" cy="106" rx="3" ry="2.5" fill="#f08878" opacity="0.8" transform="translate(588 106) scale(1.2) translate(-588 -106)"/>
<ellipse cx="507" cy="115" rx="3.5" ry="4.5" fill="#f08878" opacity="0.8" transform="translate(507 115) scale(1.2) translate(-507 -115)"/>
<ellipse cx="505" cy="154" rx="3.5" ry="4.5" fill="#f08878" opacity="0.8" transform="translate(505 154) scale(1.2) translate(-505 -154)"/>
<ellipse cx="513" cy="177" rx="3" ry="3.5" fill="#f08878" opacity="0.8" transform="translate(513 177) scale(1.2) translate(-513 -177)"/>
<ellipse cx="607" cy="140" rx="3.5" ry="4.5" fill="#f08878" opacity="0.8" transform="translate(607 140) scale(1.2) translate(-607 -140)"/>
<ellipse cx="596" cy="147" rx="2.8" ry="2.8" fill="#f08878" opacity="0.8" transform="translate(596 147) scale(1.2) translate(-596 -147)"/>
<ellipse cx="611" cy="170" rx="2.5" ry="3.5" fill="#f08878" opacity="0.8" transform="translate(611 170) scale(1.2) translate(-611 -170)"/>
<ellipse cx="541" cy="95" rx="3" ry="2.5" fill="#f08878" opacity="0.8" transform="translate(541 95) scale(1.2) translate(-541 -95)"/>
<ellipse cx="600" cy="118" rx="2.5" ry="2.5" fill="#f08878" opacity="0.8" transform="translate(600 118) scale(1.2) translate(-600 -118)"/>
<circle cx="559.0" cy="148.0" r="36" fill="url(#gCavFade)" opacity="0.8"/>
</g>
<rect x="520" y="183" width="86" height="34" fill="#f4d8a8" opacity="0.0"/>
<g transform="rotate(-10 533 195)"><ellipse cx="533" cy="195" rx="7" ry="5.5" fill="#c4ecf6" stroke="#7cc4d8" stroke-width="0.8"/><ellipse cx="532.5" cy="194.7" rx="4.1" ry="3.2" fill="#fbd0a4" stroke="#f0a070" stroke-width="0.7"/></g>
<g transform="rotate(0 561 188.5)"><ellipse cx="561" cy="188.5" rx="5.5" ry="5" fill="#c4ecf6" stroke="#7cc4d8" stroke-width="0.8"/><ellipse cx="560.5" cy="188.2" rx="3.2" ry="2.9" fill="#fbd0a4" stroke="#f0a070" stroke-width="0.7"/></g>
<g transform="rotate(0 586 186.5)"><ellipse cx="586" cy="186.5" rx="6" ry="5.5" fill="#c4ecf6" stroke="#7cc4d8" stroke-width="0.8"/><ellipse cx="585.5" cy="186.2" rx="3.5" ry="3.2" fill="#fbd0a4" stroke="#f0a070" stroke-width="0.7"/></g>
<g transform="rotate(15 604.5 197)"><ellipse cx="604.5" cy="197" rx="10" ry="8" fill="#c4ecf6" stroke="#7cc4d8" stroke-width="0.8"/><ellipse cx="604.0" cy="196.7" rx="5.8" ry="4.6" fill="#fbd0a4" stroke="#f0a070" stroke-width="0.7"/></g>
<g transform="rotate(0 596 190)"><ellipse cx="596" cy="190" rx="6" ry="5" fill="#c4ecf6" stroke="#7cc4d8" stroke-width="0.8"/><ellipse cx="595.5" cy="189.7" rx="3.5" ry="2.9" fill="#fbd0a4" stroke="#f0a070" stroke-width="0.7"/></g>
<g transform="rotate(0 547 186)"><ellipse cx="547" cy="186" rx="5" ry="4" fill="#c4ecf6" stroke="#7cc4d8" stroke-width="0.8"/><ellipse cx="546.5" cy="185.7" rx="2.9" ry="2.3" fill="#fbd0a4" stroke="#f0a070" stroke-width="0.7"/></g>
<ellipse cx="552" cy="206" rx="8" ry="7" fill="#f6a050" stroke="#e8642c" stroke-width="0.6"/>
<ellipse cx="566" cy="209" rx="7" ry="6" fill="#f6a050" stroke="#e8642c" stroke-width="0.6"/>
<ellipse cx="579" cy="200" rx="7" ry="6" fill="#f6a050" stroke="#e8642c" stroke-width="0.6"/>
<ellipse cx="591" cy="212" rx="6" ry="5" fill="#f6a050" stroke="#e8642c" stroke-width="0.6"/>
<g transform="rotate(15 540.2 204.6)"><ellipse cx="540.2" cy="204.6" rx="10" ry="7.5" fill="#c4ecf6" stroke="#7cc4d8" stroke-width="0.8"/><ellipse cx="539.7" cy="204.29999999999998" rx="5.8" ry="4.3" fill="#fbd0a4" stroke="#f0a070" stroke-width="0.7"/></g>
<g transform="rotate(0 562 203.5)"><ellipse cx="562" cy="203.5" rx="7.5" ry="7" fill="#c4ecf6" stroke="#7cc4d8" stroke-width="0.8"/><ellipse cx="561.5" cy="203.2" rx="4.3" ry="4.1" fill="#fbd0a4" stroke="#f0a070" stroke-width="0.7"/></g>
<g transform="rotate(22 596.5 203)"><ellipse cx="596.5" cy="203" rx="11.5" ry="6" fill="url(#gCy)" stroke="#0c5a70" stroke-width="0.8"/><ellipse cx="596.0" cy="202.7" rx="6.7" ry="3.5" fill="url(#gOr)" stroke="#e8541c" stroke-width="0.7"/></g>
<g transform="rotate(10 521.9 204.6)"><ellipse cx="521.9" cy="204.6" rx="8.3" ry="8.8" fill="url(#gCy)" stroke="#0c5a70" stroke-width="0.8"/><ellipse cx="521.4" cy="204.29999999999998" rx="4.8" ry="5.1" fill="url(#gOr)" stroke="#e8541c" stroke-width="0.7"/></g>
<g transform="rotate(20 572.5 212.5)"><ellipse cx="572.5" cy="212.5" rx="9" ry="8" fill="url(#gCy)" stroke="#0c5a70" stroke-width="0.8"/><ellipse cx="572.0" cy="212.2" rx="5.2" ry="4.6" fill="url(#gOr)" stroke="#e8541c" stroke-width="0.7"/></g>
<g transform="rotate(-8 549.2 194.2)"><ellipse cx="549.2" cy="194.2" rx="10.8" ry="8" fill="url(#gCy)" stroke="#0c5a70" stroke-width="0.8"/><ellipse cx="548.7" cy="193.89999999999998" rx="6.3" ry="4.6" fill="url(#gOr)" stroke="#e8541c" stroke-width="0.7"/></g>
<g transform="rotate(-15 574.3 193)"><ellipse cx="574.3" cy="193" rx="8" ry="10.8" fill="url(#gCy)" stroke="#0c5a70" stroke-width="0.8"/><ellipse cx="573.8" cy="192.7" rx="4.6" ry="6.3" fill="url(#gOr)" stroke="#e8541c" stroke-width="0.7"/></g>
<g transform="rotate(25 586 209.4)"><ellipse cx="586" cy="209.4" rx="10" ry="8" fill="url(#gCy)" stroke="#0c5a70" stroke-width="0.8"/><ellipse cx="585.5" cy="209.1" rx="5.8" ry="4.6" fill="url(#gOr)" stroke="#e8541c" stroke-width="0.7"/></g>
<g transform="rotate(20 541.7 215)"><ellipse cx="541.7" cy="215" rx="11.5" ry="6.3" fill="url(#gCy)" stroke="#0c5a70" stroke-width="0.8"/><ellipse cx="541.2" cy="214.7" rx="6.7" ry="3.7" fill="url(#gOr)" stroke="#e8541c" stroke-width="0.7"/></g>
<g transform="rotate(30 559.6 215.8)"><ellipse cx="559.6" cy="215.8" rx="9.4" ry="8" fill="url(#gCy)" stroke="#0c5a70" stroke-width="0.8"/><ellipse cx="559.1" cy="215.5" rx="5.5" ry="4.6" fill="url(#gOr)" stroke="#e8541c" stroke-width="0.7"/></g>
<ellipse cx="578.8" cy="82" rx="17.702" ry="12.190000000000001" transform="rotate(20 578.8 82)" fill="url(#gYCell)" stroke="#1a1600" stroke-width="1"/><ellipse cx="582.9" cy="84.2" rx="6" ry="4.6" transform="rotate(20 582.9 84.2)" fill="url(#gNuc)" stroke="#c83a08" stroke-width="0.7"/>
<ellipse cx="546.5" cy="80" rx="17.172" ry="14.84" transform="rotate(8 546.5 80)" fill="url(#gYCell)" stroke="#1a1600" stroke-width="1"/><ellipse cx="541.9" cy="81" rx="6.7" ry="5.2" transform="rotate(8 541.9 81)" fill="url(#gNuc)" stroke="#c83a08" stroke-width="0.7"/>
<ellipse cx="517.3" cy="89.4" rx="15.9" ry="17.702" transform="rotate(20 517.3 89.4)" fill="url(#gYCell)" stroke="#1a1600" stroke-width="1"/><ellipse cx="516.3" cy="94.6" rx="5.8" ry="6.5" transform="rotate(20 516.3 94.6)" fill="url(#gNuc)" stroke="#c83a08" stroke-width="0.7"/>
<ellipse cx="494.4" cy="108" rx="14.31" ry="16.536" transform="rotate(25 494.4 108)" fill="url(#gYCell)" stroke="#1a1600" stroke-width="1"/><ellipse cx="489.8" cy="110.6" rx="5.2" ry="6.3" transform="rotate(25 489.8 110.6)" fill="url(#gNuc)" stroke="#c83a08" stroke-width="0.7"/>
<ellipse cx="605.8" cy="97.7" rx="16.536" ry="16.112" transform="rotate(30 605.8 97.7)" fill="url(#gYCell)" stroke="#1a1600" stroke-width="1"/><ellipse cx="608.3" cy="94" rx="5.5" ry="6.5" transform="rotate(30 608.3 94)" fill="url(#gNuc)" stroke="#c83a08" stroke-width="0.7"/>
<ellipse cx="622.5" cy="116.5" rx="11.236" ry="16.536" transform="rotate(-14 622.5 116.5)" fill="url(#gYCell)" stroke="#1a1600" stroke-width="1"/><ellipse cx="624.6" cy="117.5" rx="4" ry="6.7" transform="rotate(-14 624.6 117.5)" fill="url(#gNuc)" stroke="#c83a08" stroke-width="0.7"/>
<ellipse cx="630.8" cy="144.6" rx="12.72" ry="16.536" transform="rotate(5 630.8 144.6)" fill="url(#gYCell)" stroke="#1a1600" stroke-width="1"/><ellipse cx="626" cy="147.7" rx="4.8" ry="6.2" transform="rotate(5 626 147.7)" fill="url(#gNuc)" stroke="#c83a08" stroke-width="0.7"/>
<ellipse cx="486" cy="136" rx="13.780000000000001" ry="18.762" transform="rotate(12 486 136)" fill="url(#gYCell)" stroke="#1a1600" stroke-width="1"/><ellipse cx="489.2" cy="142.5" rx="5.2" ry="6.7" transform="rotate(12 489.2 142.5)" fill="url(#gNuc)" stroke="#c83a08" stroke-width="0.7"/>
<ellipse cx="480.8" cy="164.6" rx="13.780000000000001" ry="17.702" transform="rotate(0 480.8 164.6)" fill="url(#gYCell)" stroke="#1a1600" stroke-width="1"/><ellipse cx="477" cy="164.2" rx="5" ry="6.7" transform="rotate(0 477 164.2)" fill="url(#gNuc)" stroke="#c83a08" stroke-width="0.7"/>
<ellipse cx="628.75" cy="167.7" rx="12.190000000000001" ry="16.536" transform="rotate(0 628.75 167.7)" fill="url(#gYCell)" stroke="#1a1600" stroke-width="1"/><ellipse cx="634.6" cy="170.8" rx="4.4" ry="6.5" transform="rotate(0 634.6 170.8)" fill="url(#gNuc)" stroke="#c83a08" stroke-width="0.7"/>
<ellipse cx="489.2" cy="186.5" rx="15.476" ry="16.536" transform="rotate(-20 489.2 186.5)" fill="url(#gYCell)" stroke="#1a1600" stroke-width="1"/><ellipse cx="484" cy="185.8" rx="5.6" ry="5.8" transform="rotate(-20 484 185.8)" fill="url(#gNuc)" stroke="#c83a08" stroke-width="0.7"/>
<ellipse cx="627.3" cy="198.3" rx="13.780000000000001" ry="18.02" transform="rotate(8 627.3 198.3)" fill="url(#gYCell)" stroke="#1a1600" stroke-width="1"/><ellipse cx="627.7" cy="196.25" rx="5.2" ry="6.7" transform="rotate(8 627.7 196.25)" fill="url(#gNuc)" stroke="#c83a08" stroke-width="0.7"/>
<ellipse cx="498.5" cy="210.4" rx="16.536" ry="15.476" transform="rotate(30 498.5 210.4)" fill="url(#gYCell)" stroke="#1a1600" stroke-width="1"/><ellipse cx="504.8" cy="207.7" rx="5.8" ry="5.8" transform="rotate(30 504.8 207.7)" fill="url(#gNuc)" stroke="#c83a08" stroke-width="0.7"/>
<ellipse cx="603.75" cy="220.8" rx="16.536" ry="14.31" transform="rotate(-35 603.75 220.8)" fill="url(#gYCell)" stroke="#1a1600" stroke-width="1"/><ellipse cx="600" cy="218.75" rx="6" ry="5.2" transform="rotate(-35 600 218.75)" fill="url(#gNuc)" stroke="#c83a08" stroke-width="0.7"/>
<ellipse cx="577.3" cy="232.6" rx="16.536" ry="13.568000000000001" transform="rotate(-8 577.3 232.6)" fill="url(#gYCell)" stroke="#1a1600" stroke-width="1"/><ellipse cx="571.5" cy="235" rx="5.6" ry="5" transform="rotate(-8 571.5 235)" fill="url(#gNuc)" stroke="#c83a08" stroke-width="0.7"/>
<ellipse cx="550.6" cy="234.5" rx="15.9" ry="13.038000000000002" transform="rotate(25 550.6 234.5)" fill="url(#gYCell)" stroke="#1a1600" stroke-width="1"/><ellipse cx="545" cy="235" rx="5.4" ry="5" transform="rotate(25 545 235)" fill="url(#gNuc)" stroke="#c83a08" stroke-width="0.7"/>
<ellipse cx="524.2" cy="228.1" rx="16.96" ry="16.43" transform="rotate(0 524.2 228.1)" fill="url(#gYCell)" stroke="#1a1600" stroke-width="1"/><ellipse cx="528.3" cy="227.5" rx="6" ry="6" transform="rotate(0 528.3 227.5)" fill="url(#gNuc)" stroke="#c83a08" stroke-width="0.7"/>
</g>
<polygon points="553.9,240.0 546.0,259.2 542.3,257.7 545.2,271.8 557.1,263.7 553.4,262.2 561.3,243.0" fill="#ff0000"/>
<ellipse cx="524.3" cy="289.5" rx="19.5" ry="15" fill="url(#gCy)" stroke="#0c5a70" stroke-width="1"/><path d="M510.3,282.0 A17.6,13.5 0 0 1 538.3,282.0 A21.5,15.0 0 0 0 510.3,282.0z" fill="#ffffff" opacity="0.35"/><ellipse cx="522.5" cy="289.5" rx="11" ry="9.5" fill="url(#gOr)" stroke="#e8541c" stroke-width="1"/>
<ellipse cx="544.6" cy="296.3" rx="21.3" ry="17" fill="url(#gCy)" stroke="#0c5a70" stroke-width="1"/><path d="M529.3,287.8 A19.2,15.3 0 0 1 559.9,287.8 A23.4,17.0 0 0 0 529.3,287.8z" fill="#ffffff" opacity="0.35"/><ellipse cx="541.7" cy="294.8" rx="11.7" ry="9.6" fill="url(#gOr)" stroke="#e8541c" stroke-width="1"/>
<ellipse cx="512.5" cy="312.3" rx="21.3" ry="17" fill="url(#gCy)" stroke="#0c5a70" stroke-width="1"/><path d="M497.2,303.8 A19.2,15.3 0 0 1 527.8,303.8 A23.4,17.0 0 0 0 497.2,303.8z" fill="#ffffff" opacity="0.35"/><ellipse cx="509.6" cy="310" rx="11.7" ry="9.6" fill="url(#gOr)" stroke="#e8541c" stroke-width="1"/>
<g>
<path d="M302.5,450.0 C304.2,447.1 308.5,444.9 310.6,443.8 C312.8,442.6 314.1,440.2 315.2,443.1 C316.4,446.0 318.0,456.4 317.5,461.2 C317.0,466.1 315.4,470.6 312.5,472.5 C309.6,474.4 302.0,474.4 300.0,472.5 C298.0,470.6 300.2,465.0 300.6,461.2 C301.0,457.5 300.8,452.9 302.5,450.0z" fill="#d40000"/>
<path d="M315.0,443.8 C315.1,440.2 315.4,437.8 315.6,435.0 C315.9,432.2 314.8,431.1 316.2,430.0 C317.8,428.9 321.5,428.4 323.1,429.4 C324.8,430.4 323.9,433.1 324.4,435.0 C324.9,436.9 325.0,439.0 325.6,438.8 C326.2,438.5 327.0,436.0 327.5,433.8 C328.0,431.5 326.8,428.9 328.1,427.5 C329.5,426.1 333.0,425.0 334.4,426.5 C335.8,428.0 334.5,433.6 335.0,435.0 C335.5,436.4 336.1,435.4 336.9,433.8 C337.6,432.1 337.1,428.1 338.8,426.5 C340.4,424.9 343.6,425.3 345.0,425.6 C346.4,425.9 345.4,425.8 345.6,428.1 C345.9,430.5 345.2,434.5 346.2,437.5 C347.2,440.5 348.9,440.9 350.6,443.1 C352.4,445.4 353.6,445.9 355.0,448.8 C356.4,451.6 358.8,454.9 357.8,457.5 C356.8,460.1 353.8,460.5 350.0,461.9 C346.2,463.2 342.2,463.0 338.8,464.4 C335.2,465.8 335.2,468.0 332.5,468.8 C329.8,469.5 328.0,469.5 325.0,468.1 C322.0,466.8 319.5,465.0 317.5,461.9 C315.5,458.8 315.5,456.1 315.0,452.5 C314.5,448.9 314.9,447.2 315.0,443.8z" fill="url(#gHeartV)"/>
<path d="M332.5,469.0 C332.1,468.1 334.2,467.2 336.2,466.0 C338.3,464.8 341.5,462.7 345.0,461.5 C348.5,460.3 354.6,459.5 357.5,458.8 C360.4,458.0 361.2,457.1 362.5,457.0 C363.8,456.9 363.6,458.2 365.0,458.2 C366.4,458.2 369.5,456.7 370.6,457.0 C371.8,457.3 371.5,458.6 371.9,460.0 C372.3,461.4 372.4,464.4 373.1,465.6 C373.9,466.9 375.6,465.9 376.2,467.5 C376.9,469.1 375.7,473.3 376.9,475.0 C378.1,476.7 382.4,476.6 383.5,477.5 C384.6,478.4 384.9,480.0 383.8,480.6 C382.6,481.3 376.9,481.0 376.9,481.5 C376.9,482.0 382.6,482.6 383.8,483.8 C384.9,484.9 385.2,487.3 383.8,488.1 C382.3,489.0 377.7,489.3 375.0,488.8 C372.3,488.2 370.0,486.7 367.5,485.0 C365.0,483.3 362.9,480.6 360.0,478.8 C357.1,476.9 353.5,475.0 350.0,473.8 C346.5,472.5 341.7,472.0 338.8,471.2 C335.8,470.5 332.9,469.9 332.5,469.0z" fill="#b80000"/>
<path d="M336.2,466.5 C336.7,465.5 341.5,463.1 345.0,461.9 C348.5,460.6 354.2,459.3 357.5,459.0 C360.8,458.7 362.9,459.0 365.0,460.0 C367.1,461.0 369.6,463.3 370.0,465.0 C370.4,466.7 370.0,469.6 367.5,470.0 C365.0,470.4 359.2,467.8 355.0,467.5 C350.8,467.2 345.6,468.3 342.5,468.1 C339.4,468.0 335.8,467.5 336.2,466.5z" fill="#d60000"/>
<path d="M300.8,454.0 C301.8,450.2 305.7,444.8 308.0,443.7 C310.3,442.7 313.0,444.8 314.8,447.8 C316.5,450.9 316.7,457.8 318.2,462.2 C319.8,466.7 321.6,473.2 323.8,474.5 C326.0,475.9 328.7,471.0 331.6,470.4 C334.4,469.8 337.4,470.5 340.8,470.8 C344.2,471.2 348.4,471.8 352.1,472.5 C355.9,473.2 360.0,472.9 363.4,474.9 C366.8,477.0 369.5,480.4 372.6,484.8 C375.8,489.2 379.6,495.8 382.5,501.2 C385.4,506.7 388.2,511.5 390.1,517.6 C392.0,523.8 393.4,531.3 393.8,538.2 C394.2,545.0 393.5,552.7 392.6,558.7 C391.6,564.7 390.2,570.5 388.0,574.1 C385.9,577.7 383.4,579.3 379.8,580.3 C376.2,581.2 371.8,580.4 366.5,579.9 C361.2,579.3 354.2,578.4 348.0,577.2 C341.9,576.0 335.7,574.5 329.5,572.7 C323.4,570.8 315.8,568.2 311.1,565.9 C306.3,563.6 303.7,562.0 300.8,558.7 C297.9,555.5 295.5,551.2 293.6,546.4 C291.7,541.6 290.3,535.8 289.5,530.0 C288.8,524.1 288.9,517.3 289.1,511.5 C289.3,505.7 289.7,500.5 290.9,495.1 C292.1,489.6 294.5,483.4 296.3,478.6 C298.1,473.9 301.1,470.4 301.8,466.3 C302.6,462.2 299.8,457.8 300.8,454.0z" fill="#fa0000"/>
<clipPath id="cpHeart"><path d="M300.8,454.0 C301.8,450.2 305.7,444.8 308.0,443.7 C310.3,442.7 313.0,444.8 314.8,447.8 C316.5,450.9 316.7,457.8 318.2,462.2 C319.8,466.7 321.6,473.2 323.8,474.5 C326.0,475.9 328.7,471.0 331.6,470.4 C334.4,469.8 337.4,470.5 340.8,470.8 C344.2,471.2 348.4,471.8 352.1,472.5 C355.9,473.2 360.0,472.9 363.4,474.9 C366.8,477.0 369.5,480.4 372.6,484.8 C375.8,489.2 379.6,495.8 382.5,501.2 C385.4,506.7 388.2,511.5 390.1,517.6 C392.0,523.8 393.4,531.3 393.8,538.2 C394.2,545.0 393.5,552.7 392.6,558.7 C391.6,564.7 390.2,570.5 388.0,574.1 C385.9,577.7 383.4,579.3 379.8,580.3 C376.2,581.2 371.8,580.4 366.5,579.9 C361.2,579.3 354.2,578.4 348.0,577.2 C341.9,576.0 335.7,574.5 329.5,572.7 C323.4,570.8 315.8,568.2 311.1,565.9 C306.3,563.6 303.7,562.0 300.8,558.7 C297.9,555.5 295.5,551.2 293.6,546.4 C291.7,541.6 290.3,535.8 289.5,530.0 C288.8,524.1 288.9,517.3 289.1,511.5 C289.3,505.7 289.7,500.5 290.9,495.1 C292.1,489.6 294.5,483.4 296.3,478.6 C298.1,473.9 301.1,470.4 301.8,466.3 C302.6,462.2 299.8,457.8 300.8,454.0z"/></clipPath>
<g clip-path="url(#cpHeart)">
<ellipse cx="331" cy="532" rx="33" ry="44" transform="rotate(-22 331 532)" fill="#c40000" opacity="0.85" filter="url(#blur6)"/>
<ellipse cx="352" cy="578" rx="38" ry="5" transform="rotate(8 352 578)" fill="#c40000" opacity="0.55" filter="url(#blur4)"/>
<ellipse cx="300" cy="490" rx="7" ry="30" transform="rotate(28 300 490)" fill="#ff1818" opacity="0.7" filter="url(#blur2)"/>
</g>
<path d="M323.8,468.8 C324.9,467.6 330.6,466.3 331.6,467.4 C332.6,468.4 330.4,474.5 331.2,476.6 C332.0,478.6 336.1,480.6 337.7,482.7 C339.4,484.9 343.3,490.8 343.9,493.0 C344.5,495.2 343.1,499.4 342.3,499.2 C341.4,498.9 339.2,492.7 337.7,491.0 C336.3,489.2 332.8,485.7 331.6,485.8 C330.4,486.0 329.5,492.0 328.5,492.0 C327.5,492.0 325.3,487.1 323.8,485.8 C322.3,484.6 317.3,484.0 317.2,482.7 C317.1,481.5 322.1,478.5 323.0,476.6 C323.8,474.7 322.6,470.0 323.8,468.8z" fill="#a80000"/>
<path d="M289.7,534.1 L293.0,566.9 L302.8,574.7 L308.6,565.9 L300.8,556.7 L294.6,540.2z" fill="#b00000"/>
<path d="M312.1,488.9 C311.2,491.0 309.5,496.4 307.0,501.2 C304.4,506.0 298.7,512.2 296.7,517.6 C294.6,523.1 294.0,528.9 294.6,534.1 C295.3,539.2 297.5,543.5 300.8,548.4 C304.0,553.4 311.9,561.3 314.1,563.8" fill="none" stroke="#fb1414" stroke-linecap="round" stroke-linejoin="round" stroke-width="2.6"/>
<path d="M316.2,493.0 C316.7,495.1 317.0,501.6 319.3,505.3 C321.5,509.1 326.8,511.5 329.5,515.6 C332.3,519.7 333.5,525.5 335.7,530.0 C337.9,534.4 341.7,540.2 342.9,542.3" fill="none" stroke="#fb1414" stroke-linecap="round" stroke-linejoin="round" stroke-width="3.2"/>
<path d="M329.5,515.6 L325.4,534.1" fill="none" stroke="#fb1414" stroke-linecap="round" stroke-linejoin="round" stroke-width="1.8"/>
<path d="M331.6,513.5 C333.3,513.2 338.4,512.2 341.9,511.5 C345.3,510.8 350.4,509.8 352.1,509.4" fill="none" stroke="#fb1414" stroke-linecap="round" stroke-linejoin="round" stroke-width="1.8"/>
<path d="M337.7,517.6 C339.6,518.0 345.6,518.5 349.0,519.7 C352.5,520.9 356.7,524.0 358.3,524.8" fill="none" stroke="#fb1414" stroke-linecap="round" stroke-linejoin="round" stroke-width="1.8"/>
<path d="M349.0,519.7 L351.1,526.9" fill="none" stroke="#fb1414" stroke-linecap="round" stroke-linejoin="round" stroke-width="1.4"/>
<path d="M298.7,528.9 C300.1,528.6 305.4,528.4 307.0,526.9 C308.5,525.3 307.8,520.9 308.0,519.7" fill="none" stroke="#fb1414" stroke-linecap="round" stroke-linejoin="round" stroke-width="1.6"/>
<path d="M303.9,538.2 C305.6,538.7 311.6,541.6 314.1,541.3 C316.7,540.9 318.4,537.0 319.3,536.1" fill="none" stroke="#fb1414" stroke-linecap="round" stroke-linejoin="round" stroke-width="1.6"/>
<path d="M314.1,541.3 L316.2,546.4" fill="none" stroke="#fb1414" stroke-linecap="round" stroke-linejoin="round" stroke-width="1.3"/>
<path d="M308.0,554.6 C309.5,554.1 313.8,552.4 317.2,551.5 C320.6,550.7 326.6,549.8 328.5,549.5" fill="none" stroke="#fb1414" stroke-linecap="round" stroke-linejoin="round" stroke-width="1.8"/>
<path d="M317.2,551.5 C318.2,552.4 321.0,554.8 323.4,556.7 C325.8,558.5 330.2,561.8 331.6,562.8" fill="none" stroke="#fb1414" stroke-linecap="round" stroke-linejoin="round" stroke-width="1.6"/>
<path d="M366.5,503.3 C367.0,505.7 370.6,511.1 369.6,517.6 C368.5,524.1 362.7,534.2 360.3,542.3 C357.9,550.3 356.1,562.0 355.2,565.9" fill="none" stroke="#fb1414" stroke-linecap="round" stroke-linejoin="round" stroke-width="1.6"/>
</g>
<g>
<path d="M461.3,552.0 C461.5,550.1 462.4,547.8 463.0,545.8 C463.6,543.8 464.1,542.0 464.7,540.0 C465.3,538.0 465.8,535.8 466.7,533.7 C467.6,531.6 468.9,529.1 470.0,527.5 C471.1,525.9 472.1,525.4 473.3,524.2 C474.6,522.9 476.0,521.2 477.5,520.0 C479.0,518.8 480.7,518.1 482.5,516.7 C484.3,515.3 486.2,512.7 488.3,511.7 C490.4,510.6 492.8,510.9 495.0,510.3 C497.2,509.8 499.3,508.4 501.7,508.3 C504.0,508.2 506.7,509.5 509.2,509.7 C511.7,509.8 514.2,509.3 516.7,509.3 C519.2,509.4 521.7,509.7 524.2,510.0 C526.7,510.3 529.3,510.7 531.7,511.0 C534.0,511.3 536.1,511.3 538.3,511.7 C540.6,512.1 542.9,512.8 545.0,513.3 C547.1,513.8 548.9,514.1 550.8,514.7 C552.8,515.2 554.8,515.8 556.7,516.7 C558.5,517.5 560.3,518.7 562.0,519.7 C563.7,520.6 565.2,521.4 566.7,522.5 C568.1,523.6 569.6,525.1 570.8,526.3 C572.1,527.6 573.1,528.4 574.2,530.0 C575.2,531.6 576.2,533.9 577.0,535.8 C577.8,537.8 578.6,539.6 579.2,541.7 C579.7,543.8 580.1,546.1 580.3,548.3 C580.6,550.6 580.8,552.8 580.8,555.0 C580.8,557.2 580.6,559.4 580.3,561.7 C580.1,563.9 579.5,566.4 579.2,568.3 C578.8,570.3 578.8,571.8 578.3,573.3 C577.9,574.9 577.6,576.7 576.7,577.5 C575.7,578.3 574.4,579.6 572.5,578.3 C570.6,577.1 568.2,572.5 565.0,570.0 C561.8,567.5 556.9,564.9 553.3,563.3 C549.7,561.8 546.1,560.6 543.3,560.8 C540.6,561.1 537.9,562.4 536.7,565.0 C535.4,567.6 535.8,573.6 535.8,576.7 C535.8,579.7 537.9,581.4 536.7,583.3 C535.4,585.3 530.6,587.1 528.3,588.3 C526.1,589.6 525.3,590.3 523.3,590.8 C521.4,591.3 519.4,591.5 516.7,591.3 C513.9,591.2 509.7,590.6 506.7,590.0 C503.6,589.4 500.7,588.9 498.3,587.5 C496.0,586.1 493.6,583.8 492.5,581.7 C491.4,579.6 491.0,576.9 491.7,575.0 C492.4,573.1 497.2,571.1 496.7,570.0 C496.1,568.9 491.4,568.6 488.3,568.7 C485.3,568.7 481.4,570.5 478.3,570.3 C475.3,570.1 472.4,568.7 470.0,567.5 C467.6,566.3 465.5,565.0 464.2,563.3 C462.8,561.7 462.5,559.4 462.0,557.5 C461.5,555.6 461.2,553.9 461.3,552.0z" fill="#e6b98c"/>
<path d="M536.7,565.0 C537.2,563.9 539.6,562.2 540.8,561.7 C542.1,561.1 544.6,560.6 545.8,560.8 C547.1,561.1 548.9,563.1 550.0,563.3 C551.1,563.6 552.9,562.3 554.2,562.5 C555.4,562.7 558.3,564.1 559.2,565.0 C560.1,565.9 560.1,568.5 560.8,569.2 C561.6,569.8 564.0,569.6 565.0,570.0 C566.0,570.4 567.1,571.8 568.3,572.5 C569.6,573.2 573.5,574.1 574.2,575.0 C574.8,575.9 573.9,578.4 573.3,579.2 C572.8,579.9 570.6,580.1 570.0,580.8 C569.4,581.6 569.7,584.1 569.2,585.0 C568.6,585.9 566.4,586.6 565.8,587.5 C565.3,588.4 565.7,590.9 565.0,591.7 C564.3,592.4 561.7,592.8 560.8,593.3 C559.9,593.8 559.3,595.2 558.3,595.3 C557.3,595.5 554.4,594.4 553.3,594.7 C552.2,595.0 551.0,597.5 550.0,597.5 C549.0,597.5 546.8,595.2 545.8,594.7 C544.8,594.2 543.5,593.7 542.5,593.7 C541.5,593.6 539.2,594.5 538.3,594.2 C537.4,593.8 535.8,591.9 535.8,590.8 C535.8,589.7 537.6,587.1 538.3,585.8 C539.1,584.6 541.7,582.8 541.7,581.3 C541.7,579.9 539.0,576.5 538.3,575.0 C537.7,573.5 536.9,571.3 536.7,570.0 C536.4,568.7 536.1,566.1 536.7,565.0z" fill="#b2b2b2"/>
<path d="M490.8,546.7 C491.0,544.7 492.0,540.9 493.3,539.2 C494.7,537.4 497.0,535.7 500.0,535.0 C503.0,534.3 509.1,534.4 513.3,534.7 C517.6,534.9 523.8,535.5 528.3,536.7 C532.8,537.8 539.8,540.8 543.3,542.5 C546.8,544.2 550.0,546.5 551.7,548.3 C553.4,550.2 554.6,553.2 554.7,555.0 C554.7,556.8 553.2,559.6 552.0,560.0 C550.8,560.4 548.2,558.6 546.7,557.5 C545.1,556.4 544.2,554.2 541.7,552.5 C539.2,550.8 533.8,547.3 530.0,545.8 C526.2,544.4 520.2,543.4 516.7,543.0 C513.2,542.6 508.9,542.7 506.7,543.3 C504.4,544.0 502.2,546.0 501.7,547.5 C501.2,549.0 503.8,552.2 503.3,553.3 C502.8,554.5 500.0,555.1 498.3,555.0 C496.7,554.9 493.6,553.8 492.5,552.5 C491.4,551.2 490.7,548.7 490.8,546.7z" fill="#8e8e8e"/>
<path d="M498.7,552.0 C498.3,550.8 495.9,547.0 496.7,545.0 C497.4,543.0 500.0,541.1 503.3,540.0 C506.7,538.9 512.2,538.5 516.7,538.7 C521.1,538.8 525.8,539.5 530.0,540.8 C534.2,542.2 538.8,544.7 541.7,546.7 C544.6,548.6 546.5,551.5 547.5,552.5" fill="none" stroke="#3e3a36" stroke-width="1.05" stroke-linecap="round"/>
<path d="M477.5,525.8 C478.5,525.7 481.0,525.7 483.3,525.0 C485.7,524.3 489.2,522.4 491.7,521.7 C494.2,521.0 496.1,520.1 498.3,520.8 C500.6,521.5 503.9,525.0 505.0,525.8" fill="none" stroke="#3e3a36" stroke-width="1.05" stroke-linecap="round"/>
<path d="M498.3,511.7 C498.2,512.5 496.9,515.6 497.5,516.7 C498.1,517.8 499.9,518.2 501.7,518.3 C503.5,518.5 507.2,517.6 508.3,517.5" fill="none" stroke="#3e3a36" stroke-width="1.05" stroke-linecap="round"/>
<path d="M510.8,510.8 C511.8,511.1 515.6,511.5 516.7,512.5 C517.8,513.5 517.4,516.0 517.5,516.7" fill="none" stroke="#3e3a36" stroke-width="1.05" stroke-linecap="round"/>
<path d="M516.7,525.0 C517.2,524.3 518.5,521.8 520.0,520.8 C521.5,519.9 524.3,520.1 525.8,519.2 C527.4,518.2 528.2,516.2 529.2,515.0 C530.1,513.8 531.2,512.2 531.7,511.7" fill="none" stroke="#3e3a36" stroke-width="1.05" stroke-linecap="round"/>
<path d="M533.3,518.3 C533.9,517.8 535.4,515.8 536.7,515.0 C537.9,514.2 540.1,513.6 540.8,513.3" fill="none" stroke="#3e3a36" stroke-width="1.05" stroke-linecap="round"/>
<path d="M535.0,519.2 C535.8,519.3 538.6,519.6 540.0,520.0 C541.4,520.4 542.8,521.4 543.3,521.7" fill="none" stroke="#3e3a36" stroke-width="1.05" stroke-linecap="round"/>
<path d="M523.3,525.8 C524.4,526.1 528.3,526.9 530.0,527.5 C531.7,528.1 531.9,529.0 533.3,529.2 C534.7,529.3 537.5,528.5 538.3,528.3" fill="none" stroke="#3e3a36" stroke-width="1.05" stroke-linecap="round"/>
<path d="M550.0,519.2 C550.7,519.7 553.9,521.5 554.2,522.5 C554.4,523.5 551.2,524.4 551.7,525.0 C552.1,525.6 555.4,525.4 556.7,525.8 C557.9,526.2 558.8,527.2 559.2,527.5" fill="none" stroke="#3e3a36" stroke-width="1.05" stroke-linecap="round"/>
<path d="M538.3,535.0 C539.4,534.7 542.8,533.8 545.0,533.3 C547.2,532.9 550.0,532.6 551.7,532.5 C553.3,532.4 554.4,532.9 555.0,533.0" fill="none" stroke="#3e3a36" stroke-width="1.05" stroke-linecap="round"/>
<path d="M565.0,528.3 C565.6,527.5 567.6,523.8 568.3,523.3 C569.0,522.9 569.0,525.4 569.2,525.8" fill="none" stroke="#3e3a36" stroke-width="1.05" stroke-linecap="round"/>
<path d="M556.7,537.5 C557.8,537.8 561.1,539.4 563.3,539.2 C565.6,538.9 568.2,537.5 570.0,535.8 C571.8,534.2 573.5,530.3 574.2,529.2" fill="none" stroke="#3e3a36" stroke-width="1.05" stroke-linecap="round"/>
<path d="M558.3,545.0 C559.7,544.7 564.2,544.3 566.7,543.3 C569.2,542.4 572.2,539.9 573.3,539.2" fill="none" stroke="#3e3a36" stroke-width="1.05" stroke-linecap="round"/>
<path d="M559.2,550.8 C559.9,551.5 562.4,553.5 563.3,555.0 C564.3,556.5 563.9,558.9 565.0,560.0 C566.1,561.1 568.6,562.2 570.0,561.7 C571.4,561.1 572.9,558.3 573.3,556.7 C573.8,555.0 571.9,553.1 572.5,551.7 C573.1,550.3 576.0,548.9 576.7,548.3" fill="none" stroke="#3e3a36" stroke-width="1.05" stroke-linecap="round"/>
<path d="M566.7,553.3 C567.1,552.2 567.2,548.3 569.2,546.7 C571.1,545.0 576.8,543.9 578.3,543.3" fill="none" stroke="#3e3a36" stroke-width="1.05" stroke-linecap="round"/>
<path d="M558.3,561.7 C559.7,562.6 563.5,566.1 566.7,567.5 C569.9,568.9 575.7,569.6 577.5,570.0" fill="none" stroke="#3e3a36" stroke-width="1.05" stroke-linecap="round"/>
<path d="M572.5,565.0 L578.3,560.8" fill="none" stroke="#3e3a36" stroke-width="1.05" stroke-linecap="round"/>
<path d="M489.2,530.0 C489.4,529.9 489.6,529.4 490.8,529.2 C492.1,528.9 495.7,528.8 496.7,528.7" fill="none" stroke="#3e3a36" stroke-width="1.05" stroke-linecap="round"/>
<path d="M489.2,530.8 C489.3,531.8 490.2,535.0 490.0,536.7 C489.8,538.3 488.3,540.1 488.0,540.8" fill="none" stroke="#3e3a36" stroke-width="1.05" stroke-linecap="round"/>
<path d="M468.3,534.7 C469.2,534.5 471.7,533.8 473.3,533.7 C475.0,533.6 476.2,533.8 478.3,534.2 C480.4,534.5 484.6,535.6 485.8,535.8" fill="none" stroke="#3e3a36" stroke-width="1.05" stroke-linecap="round"/>
<path d="M465.0,541.7 C466.1,541.5 469.7,541.1 471.7,540.8 C473.6,540.6 475.8,540.1 476.7,540.0" fill="none" stroke="#3e3a36" stroke-width="1.05" stroke-linecap="round"/>
<path d="M466.7,545.0 C467.5,545.1 470.1,545.1 471.7,545.8 C473.2,546.5 475.1,548.6 475.8,549.2" fill="none" stroke="#3e3a36" stroke-width="1.05" stroke-linecap="round"/>
<path d="M460.8,552.5 C462.1,552.5 466.2,551.9 468.3,552.5 C470.4,553.1 472.2,554.6 473.3,555.8 C474.4,557.1 474.7,559.3 475.0,560.0" fill="none" stroke="#3e3a36" stroke-width="1.05" stroke-linecap="round"/>
<path d="M463.3,560.8 C463.9,561.2 465.3,563.2 466.7,563.3 C468.1,563.5 470.6,561.0 471.7,561.7 C472.8,562.4 473.1,566.5 473.3,567.5" fill="none" stroke="#3e3a36" stroke-width="1.05" stroke-linecap="round"/>
<path d="M482.5,553.3 C482.8,554.0 484.2,555.8 484.2,557.5 C484.2,559.2 483.5,561.2 482.5,563.3 C481.5,565.4 479.0,568.9 478.3,570.0" fill="none" stroke="#3e3a36" stroke-width="1.05" stroke-linecap="round"/>
<path d="M484.2,560.8 C485.4,561.2 489.4,563.2 491.7,563.3 C493.9,563.5 496.5,561.9 497.5,561.7" fill="none" stroke="#3e3a36" stroke-width="1.05" stroke-linecap="round"/>
<path d="M497.5,576.7 C497.9,577.9 498.5,582.5 500.0,584.2 C501.5,585.8 504.6,586.5 506.7,586.7 C508.8,586.8 510.8,585.4 512.5,585.0 C514.2,584.6 516.0,584.3 516.7,584.2" fill="none" stroke="#3e3a36" stroke-width="1.05" stroke-linecap="round"/>
<path d="M500.0,573.3 C500.6,573.9 503.1,575.6 503.3,576.7 C503.6,577.8 501.9,579.4 501.7,580.0" fill="none" stroke="#3e3a36" stroke-width="1.05" stroke-linecap="round"/>
<path d="M499.2,568.3 L503.3,565.8" fill="none" stroke="#3e3a36" stroke-width="1.05" stroke-linecap="round"/>
<path d="M470.8,525.8 L473.3,528.3" fill="none" stroke="#3e3a36" stroke-width="1.05" stroke-linecap="round"/>
<path d="M512.5,546.7 C513.2,546.2 514.9,544.4 516.7,544.2 C518.5,543.9 522.2,544.9 523.3,545.0" fill="none" stroke="#3e3a36" stroke-width="1.05" stroke-linecap="round"/>
<path d="M543.3,575.0 C543.9,574.4 545.6,572.4 546.7,571.7 C547.8,571.0 549.4,571.0 550.0,570.8" fill="none" stroke="#3e3a36" stroke-width="1.05" stroke-linecap="round"/>
<path d="M550.0,570.0 C551.1,569.3 555.0,566.9 556.7,565.8 C558.3,564.7 559.4,563.8 560.0,563.3" fill="none" stroke="#3e3a36" stroke-width="1.05" stroke-linecap="round"/>
<path d="M547.5,591.7 C547.6,590.8 547.9,588.1 548.3,586.7 C548.8,585.3 549.7,583.9 550.0,583.3" fill="none" stroke="#3e3a36" stroke-width="1.05" stroke-linecap="round"/>
<path d="M555.8,580.8 L560.8,588.3" fill="none" stroke="#3e3a36" stroke-width="1.05" stroke-linecap="round"/>
<path d="M560.0,578.3 L566.7,583.3" fill="none" stroke="#3e3a36" stroke-width="1.05" stroke-linecap="round"/>
<path d="M565.0,572.5 L569.2,577.5" fill="none" stroke="#3e3a36" stroke-width="1.05" stroke-linecap="round"/>
<circle cx="520.0" cy="552.0" r="2" fill="#8a7a68" stroke="#4a4540" stroke-width="0.7"/>
<path d="M507.5,556.7 C507.7,555.8 510.7,554.9 511.7,555.8 C512.6,556.8 514.7,563.8 515.8,565.0 C517.0,566.2 520.8,565.2 521.7,565.8 C522.5,566.4 523.7,569.5 523.3,570.0 C522.9,570.5 519.3,570.5 518.3,570.3 C517.4,570.1 515.7,567.8 515.0,568.3 C514.3,568.9 513.2,574.0 512.5,575.0 C511.8,576.0 509.8,576.9 509.2,576.7 C508.6,576.5 507.3,574.3 507.5,573.3 C507.7,572.4 510.5,569.5 510.8,568.3 C511.1,567.2 510.4,564.7 510.0,563.3 C509.6,562.0 507.3,557.5 507.5,556.7z" fill="#3d3d3d"/>
<clipPath id="cpCord"><rect x="440" y="540" width="200" height="125.300"/><rect x="440" y="695.300" width="200" height="130"/></clipPath>
<path d="M528.3,553.3 C528.6,551.8 531.9,553.3 532.5,554.2 C533.1,555.0 533.9,560.2 534.2,561.7 C534.4,563.1 534.8,566.8 535.0,568.3 C535.2,569.8 535.1,575.4 535.8,576.7 C536.6,577.9 542.2,579.9 542.5,580.8 C542.8,581.8 539.8,584.9 539.2,585.8 C538.6,586.8 537.0,588.8 536.7,590.0 C536.3,591.2 535.4,596.3 535.3,598.3 C535.3,600.3 536.0,607.8 536.0,610.0 C536.0,612.2 535.8,618.7 535.7,620.0 C535.6,621.3 535.1,621.8 535.2,622.8 C535.2,623.7 535.7,626.6 535.7,629.3 C535.6,632.1 534.8,646.6 534.9,650.3 C535.0,654.0 536.3,661.6 536.5,666.0 C536.6,670.5 536.6,689.9 536.5,694.8 C536.3,699.8 535.0,711.6 534.9,715.8 C534.8,720.0 535.2,732.6 535.7,736.8 C536.1,741.0 539.0,754.1 539.6,757.8 C540.2,761.4 541.6,770.3 541.7,773.5 C541.8,776.6 540.7,786.9 540.9,789.2 C541.1,791.6 543.5,795.4 543.5,797.1 C543.6,798.8 542.9,806.8 541.7,806.3 C540.5,805.7 533.2,794.6 531.7,791.8 C530.3,789.1 527.4,782.1 527.0,778.7 C526.6,775.3 527.5,762.0 527.8,757.8 C528.1,753.6 529.6,741.2 529.6,736.8 C529.6,732.3 528.4,717.4 527.8,713.2 C527.2,709.0 524.4,699.6 523.9,694.8 C523.4,690.1 522.9,669.9 522.8,666.0 C522.8,662.1 523.0,657.9 523.4,655.5 C523.7,653.2 526.2,645.3 526.5,642.4 C526.8,639.5 526.0,628.9 526.0,626.7 C525.9,624.5 526.1,622.0 525.8,620.0 C525.6,618.0 523.7,608.8 523.3,606.7 C523.0,604.5 522.4,599.8 522.5,598.3 C522.6,596.8 524.4,593.2 524.2,591.7 C523.9,590.2 520.5,585.2 520.0,583.3 C519.5,581.5 519.1,574.8 519.2,573.3 C519.2,571.8 520.4,568.6 520.8,568.3 C521.2,568.0 522.8,568.7 523.3,570.3 C523.8,572.0 524.8,583.8 525.8,585.0 C526.8,586.2 532.9,584.0 533.3,582.5 C533.8,581.0 530.5,572.9 530.0,570.0 C529.5,567.1 528.1,554.9 528.3,553.3z" fill="#3d3d3d" clip-path="url(#cpCord)"/>
</g>
<g>
<path d="M687.8,480.2 C687.8,478.8 689.5,477.2 691.6,476.7 C693.7,476.2 696.8,476.2 700.4,477.2 C703.9,478.2 707.9,480.3 712.9,482.7 C717.9,485.1 725.9,488.6 730.5,491.5 C735.1,494.4 738.3,496.7 740.5,500.3 C742.7,503.8 742.7,509.1 743.5,512.8 C744.3,516.6 743.9,519.9 745.0,522.9 C746.1,525.8 749.7,528.1 750.0,530.4 C750.3,532.7 749.2,535.0 746.8,536.7 C744.3,538.3 738.5,539.0 735.5,540.4 C732.4,541.9 729.3,542.1 728.4,545.4 C727.6,548.8 730.5,556.3 730.5,560.5 C730.4,564.7 729.6,568.4 727.9,570.5 C726.3,572.7 722.6,573.7 720.4,573.5 C718.2,573.3 715.7,571.9 714.9,569.3 C714.1,566.7 716.0,561.5 715.9,558.0 C715.8,554.5 715.5,550.3 714.1,548.4 C712.8,546.6 710.4,545.9 707.9,546.7 C705.4,547.4 701.8,549.8 699.1,553.0 C696.4,556.1 694.3,562.0 691.6,565.5 C688.9,569.1 685.9,572.4 682.8,574.3 C679.7,576.2 675.9,577.1 672.8,576.8 C669.6,576.5 667.7,573.9 664.0,572.3 C660.2,570.7 655.4,567.7 650.2,567.3 C644.9,566.8 637.0,569.9 632.6,569.8 C628.2,569.7 625.7,568.5 623.8,566.8 C622.0,565.0 620.7,561.5 621.3,559.5 C622.0,557.4 623.6,555.3 627.6,554.5 C631.6,553.6 638.9,553.4 645.2,554.2 C651.4,555.0 659.8,558.6 665.2,559.2 C670.7,559.9 675.1,559.2 677.8,558.0 C680.5,556.7 682.0,553.6 681.5,551.7 C681.1,549.8 678.4,547.5 675.3,546.7 C672.1,545.9 666.9,547.1 662.7,546.7 C658.5,546.3 653.3,545.9 650.2,544.2 C647.0,542.5 646.0,539.2 643.9,536.7 C641.8,534.1 640.8,530.8 637.6,529.1 C634.5,527.5 629.3,527.5 625.1,526.6 C620.9,525.8 615.3,525.4 612.5,524.1 C609.8,522.9 608.6,520.6 608.8,519.1 C609.0,517.5 610.7,515.5 613.8,514.8 C616.9,514.1 623.2,515.0 627.6,514.8 C632.0,514.7 637.0,515.3 640.1,514.1 C643.3,512.9 646.4,509.5 646.4,507.8 C646.4,506.1 641.4,505.5 640.1,504.0 C638.9,502.6 637.8,500.2 638.9,499.0 C639.9,497.9 644.1,496.6 646.4,497.3 C648.7,497.9 651.4,499.8 652.7,502.8 C653.9,505.8 652.9,511.6 653.9,515.3 C655.0,519.1 656.2,523.1 659.0,525.4 C661.7,527.7 667.1,528.9 670.2,529.1 C673.4,529.3 676.2,528.3 677.8,526.6 C679.4,525.0 680.6,521.8 679.8,519.1 C678.9,516.4 675.0,513.5 672.8,510.3 C670.5,507.2 667.7,503.6 666.5,500.3 C665.3,496.9 664.9,493.0 665.7,490.2 C666.6,487.5 669.3,484.2 671.5,484.0 C673.7,483.8 677.1,486.7 679.0,489.0 C680.9,491.3 680.5,494.8 682.8,497.8 C685.1,500.7 689.7,505.1 692.8,506.6 C696.0,508.0 699.6,507.8 701.6,506.6 C703.6,505.3 705.1,501.7 704.9,499.0 C704.7,496.3 702.6,492.5 700.4,490.2 C698.1,487.9 693.7,486.9 691.6,485.2 C689.5,483.6 687.8,481.6 687.8,480.2z" fill="url(#gImm)" stroke="#000" stroke-width="1"/>
<circle cx="699.1" cy="480.2" r="1.7" fill="#0f6b2c"/>
<circle cx="697.3" cy="485.7" r="1.7" fill="#0f6b2c"/>
<circle cx="667.7" cy="497.3" r="1.7" fill="#0f6b2c"/>
<circle cx="672.3" cy="499.3" r="1.7" fill="#0f6b2c"/>
<circle cx="668.2" cy="502.0" r="1.7" fill="#0f6b2c"/>
<circle cx="648.4" cy="504.8" r="1.7" fill="#0f6b2c"/>
<circle cx="625.6" cy="519.1" r="1.7" fill="#0f6b2c"/>
<circle cx="632.6" cy="521.6" r="1.7" fill="#0f6b2c"/>
<circle cx="637.6" cy="522.4" r="1.7" fill="#0f6b2c"/>
<circle cx="643.2" cy="521.4" r="1.7" fill="#0f6b2c"/>
<circle cx="681.5" cy="526.4" r="1.7" fill="#0f6b2c"/>
<circle cx="679.8" cy="530.4" r="1.7" fill="#0f6b2c"/>
<circle cx="647.2" cy="538.4" r="1.7" fill="#0f6b2c"/>
<circle cx="652.7" cy="543.4" r="1.7" fill="#0f6b2c"/>
<circle cx="636.9" cy="557.2" r="1.7" fill="#0f6b2c"/>
<circle cx="641.6" cy="559.7" r="1.7" fill="#0f6b2c"/>
<circle cx="626.8" cy="564.3" r="1.7" fill="#0f6b2c"/>
<circle cx="669.0" cy="573.5" r="1.7" fill="#0f6b2c"/>
<circle cx="674.3" cy="574.3" r="1.7" fill="#0f6b2c"/>
<circle cx="679.3" cy="573.0" r="1.7" fill="#0f6b2c"/>
<circle cx="728.4" cy="519.6" r="10.300" fill="url(#gImmNuc)" stroke="#b84a10" stroke-width="0.8"/>
</g>
<g transform="translate(674.8 447.1) rotate(98.5)"><path d="M0.5,3.9 L-5,3.2 M0.5,-3.9 L-4.2,-4.6 M-0.5,0 L-3,0" stroke="#111" stroke-width="1.3" fill="none"/><rect x="0" y="-6.35" width="25" height="4.8" fill="#0b7a40" stroke="#03180a" stroke-width="1.1"/><rect x="0" y="1.55" width="25" height="4.8" fill="#0b7a40" stroke="#03180a" stroke-width="1.1"/><g transform="rotate(145)"><rect x="6.4" y="-2.70" width="15.5" height="4.8" fill="#0b7a40" stroke="#03180a" stroke-width="1.1"/><rect x="6.4" y="-10.40" width="15.5" height="4.8" fill="#0b7a40" stroke="#03180a" stroke-width="1.1"/></g><g transform="rotate(224)"><rect x="6.3" y="-2.20" width="15.5" height="4.8" fill="#0b7a40" stroke="#03180a" stroke-width="1.1"/><rect x="6.3" y="5.50" width="15.5" height="4.8" fill="#0b7a40" stroke="#03180a" stroke-width="1.1"/></g></g>
<g transform="translate(781.2 504.8) rotate(198.2)"><path d="M0.5,3.9 L-5,3.2 M0.5,-3.9 L-4.2,-4.6 M-0.5,0 L-3,0" stroke="#111" stroke-width="1.3" fill="none"/><rect x="0" y="-6.35" width="25" height="4.8" fill="#0b7a40" stroke="#03180a" stroke-width="1.1"/><rect x="0" y="1.55" width="25" height="4.8" fill="#0b7a40" stroke="#03180a" stroke-width="1.1"/><g transform="rotate(145)"><rect x="6.4" y="-2.70" width="15.5" height="4.8" fill="#0b7a40" stroke="#03180a" stroke-width="1.1"/><rect x="6.4" y="-10.40" width="15.5" height="4.8" fill="#0b7a40" stroke="#03180a" stroke-width="1.1"/></g><g transform="rotate(224)"><rect x="6.3" y="-2.20" width="15.5" height="4.8" fill="#0b7a40" stroke="#03180a" stroke-width="1.1"/><rect x="6.3" y="5.50" width="15.5" height="4.8" fill="#0b7a40" stroke="#03180a" stroke-width="1.1"/></g></g>
<g transform="translate(690.0 599.8) rotate(61.2)"><path d="M0.5,3.9 L-5,3.2 M0.5,-3.9 L-4.2,-4.6 M-0.5,0 L-3,0" stroke="#111" stroke-width="1.3" fill="none"/><rect x="0" y="-6.35" width="25" height="4.8" fill="#0b7a40" stroke="#03180a" stroke-width="1.1"/><rect x="0" y="1.55" width="25" height="4.8" fill="#0b7a40" stroke="#03180a" stroke-width="1.1"/><g transform="rotate(145)"><rect x="6.4" y="-2.70" width="15.5" height="4.8" fill="#0b7a40" stroke="#03180a" stroke-width="1.1"/><rect x="6.4" y="-10.40" width="15.5" height="4.8" fill="#0b7a40" stroke="#03180a" stroke-width="1.1"/></g><g transform="rotate(224)"><rect x="6.3" y="-2.20" width="15.5" height="4.8" fill="#0b7a40" stroke="#03180a" stroke-width="1.1"/><rect x="6.3" y="5.50" width="15.5" height="4.8" fill="#0b7a40" stroke="#03180a" stroke-width="1.1"/></g></g>
<circle cx="458" cy="466" r="0.7" fill="#5a5a5a"/>
<polygon points="474.7,349.6 429.7,426.0 420.0,420.3 411.9,473.5 454.5,440.6 444.9,434.9 489.9,358.5" fill="#ff0000"/>
<polygon points="520.7,351.7 519.0,444.1 507.3,443.9 527.1,496.2 548.8,444.6 537.0,444.4 538.7,352.0" fill="#ff0000"/>
<polygon points="568.6,358.6 605.4,437.5 594.4,442.6 635.0,481.1 631.6,425.3 620.6,430.4 583.8,351.5" fill="#ff0000"/>
<g font-family="'Liberation Sans', Arial, sans-serif">
<text x="96.9" y="146.6" font-size="19.8" fill="#000" textLength="66.0" lengthAdjust="spacingAndGlyphs" >Oocyte</text>
<text x="133.1" y="240.0" font-size="19.8" fill="#000" textLength="59.4" lengthAdjust="spacingAndGlyphs" >Sperm</text>
<text x="277.9" y="93.8" font-size="24.4" fill="#ff0000" textLength="115.7" lengthAdjust="spacingAndGlyphs" >Totipotent</text>
<text x="303.9" y="115.2" font-size="19.8" fill="#000" textLength="63.9" lengthAdjust="spacingAndGlyphs" >Morula</text>
<text x="510.4" y="55.6" font-size="19.8" fill="#000" textLength="90.6" lengthAdjust="spacingAndGlyphs" >Blastocyst</text>
<text x="715.1" y="194.0" font-size="31.24" fill="#000" textLength="177.2" lengthAdjust="spacingAndGlyphs" >Human Fetus</text>
<text x="345.8" y="291.6" font-size="24.4" fill="#ff0000" textLength="123.0" lengthAdjust="spacingAndGlyphs" >Pluripotent</text>
<text x="341.4" y="316.4" font-size="19.8" fill="#000" textLength="142.2" lengthAdjust="spacingAndGlyphs" >Inner Mass Cells</text>
<text x="104.0" y="461.3" font-size="26.21" fill="#f4f4f4" textLength="113.8" lengthAdjust="spacingAndGlyphs" >Examples:</text>
<text x="254.3" y="608.2" font-size="24.61" fill="#000" textLength="188.9" lengthAdjust="spacingAndGlyphs" >Circulatory System</text>
<text x="455.7" y="688.8" font-size="24.61" fill="#000" textLength="163.4" lengthAdjust="spacingAndGlyphs" >Nervous System</text>
<text x="712.8" y="605.9" font-size="24.61" fill="#000" textLength="164.4" lengthAdjust="spacingAndGlyphs" >Immune System</text>
<text x="755.4" y="808.3" font-size="30.17" fill="#ff0000" textLength="134.5" lengthAdjust="spacingAndGlyphs" >Unipotent</text>
</g>
</svg>
</body></html>
